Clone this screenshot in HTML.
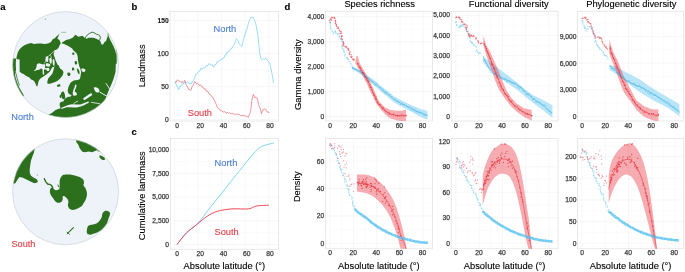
<!DOCTYPE html>
<html><head><meta charset="utf-8"><style>
html,body{margin:0;padding:0;background:#fff;width:685px;height:272px;overflow:hidden}
svg{display:block;will-change:transform}
text{font-family:"Liberation Sans", sans-serif}
</style></head><body>
<svg xmlns="http://www.w3.org/2000/svg" width="685" height="272" viewBox="0 0 685 272" font-family='&quot;Liberation Sans&quot;, sans-serif'>
<rect width="685" height="272" fill="#fff"/>
<clipPath id="gN"><circle cx="65.6" cy="64.6" r="53.0"/></clipPath>
<clipPath id="gS"><circle cx="65.6" cy="191.8" r="53.0"/></clipPath>
<circle cx="65.6" cy="64.6" r="53.0" fill="#eef3fa"/>
<circle cx="65.6" cy="191.8" r="53.0" fill="#eef3fa"/>
<path d="M16.3,58.3 L17.7,52.5 L19.6,49.2 L21.6,47.3 L24.4,45.3 L27.3,43.9 L31.1,43 L34,43.9 L38,43.4 L41.3,43.4 L44.6,44 L47.9,43.4 L50.7,42.3 L51.8,40.7 L52.9,39 L54.5,38.5 L56.2,36.8 L57.9,35.2 L59.5,33.5 L58.4,36.3 L57.3,39 L59,39.6 L60.1,41.2 L60.6,43.4 L59.5,45.6 L58.4,47.9 L56.7,49.5 L54.7,50.3 L53.6,54.4 L54.7,57.4 L55.8,61 L57.3,64 L56.5,65.5 L54.5,66.5 L52.3,67.2 L49.7,71.7 L46.1,74.7 L42.6,77 L40.5,78.5 L39.3,79.8 L38.4,81.7 L37.9,84.1 L37.4,86.6 L36.5,86.1 L35.5,83.7 L34.6,81.8 L33.1,80.3 L31.2,79.4 L29.3,77.5 L27.4,76.5 L25.5,75.6 L23.6,74.1 L21.6,73.2 L19.7,71.7 L19.6,59.6 L17.3,59.2 Z" fill="#2c6f1c" clip-path="url(#gN)"/>
<path d="M5,58.5 L16.18,58.5 L16.02,59.94 L15.9,61.38 L15.83,62.81 L15.8,64.25 L15.81,65.69 L15.86,67.12 L15.96,68.56 L16.09,70 L15.62,71.44 L15.18,72.88 L14.92,74.31 L15.22,75.75 L15.56,77.19 L15.94,78.62 L16.37,80.06 L16.85,81.5 L17.37,82.94 L17.94,84.38 L18.56,85.81 L19.24,87.25 L19.97,88.69 L20.76,90.12 L21.6,91.56 L22.52,93 L24,96 L5,100 Z" fill="#2c6f1c" clip-path="url(#gN)"/>
<path d="M15.6,72.5 L16.3,75 L16.9,77.5 L18.3,82.3 L19.3,85.1" fill="none" stroke="#2c6f1c" stroke-width="0.8" stroke-linejoin="round" stroke-linecap="round" clip-path="url(#gN)"/>
<path d="M38.6,63.3 C39.2,63.17 39.78,63.62 40.5,63.8 C41.22,63.98 42.25,64.37 42.9,64.4 C43.55,64.43 44.02,63.73 44.4,64 C44.78,64.27 45.13,65.3 45.2,66 C45.27,66.7 45.08,67.67 44.8,68.2 C44.52,68.73 44.1,69.17 43.5,69.2 C42.9,69.23 41.87,68.37 41.2,68.4 C40.53,68.43 40.28,69.08 39.5,69.4 C38.72,69.72 37.45,70.03 36.5,70.3 C35.55,70.57 33.97,71.18 33.8,71 C33.63,70.82 35.07,69.83 35.5,69.2 C35.93,68.57 36.17,67.97 36.4,67.2 C36.63,66.43 36.53,65.25 36.9,64.6 C37.27,63.95 38,63.43 38.6,63.3 Z" fill="#eef3fa" clip-path="url(#gN)"/>
<path d="M43.5,67.6 L47.2,68.4 L47.2,69.6 L43.5,69.6 Z" fill="#eef3fa" clip-path="url(#gN)"/>
<path d="M42.4,68.5 L43.9,68.8 L44.2,74.5 L42.8,74.5 Z" fill="#eef3fa" clip-path="url(#gN)"/>
<path d="M54.7,50.8 L52.9,52.2 L51,54.1 L48.8,55.9 L47,57.4 L45.9,59.2 L45.5,61.4 L44.6,63" fill="none" stroke="#eef3fa" stroke-width="0.7" stroke-linejoin="round" stroke-linecap="round" clip-path="url(#gN)"/>
<path d="M45.8,56.8 C46.1,56.35 47.07,56.1 47.5,56.3 C47.93,56.5 48.32,57.13 48.4,58 C48.48,58.87 48.32,60.88 48,61.5 C47.68,62.12 46.88,62.12 46.5,61.7 C46.12,61.28 45.82,59.82 45.7,59 C45.58,58.18 45.5,57.25 45.8,56.8 Z" fill="#eef3fa" clip-path="url(#gN)"/>
<path d="M49.5,58.2 C49.77,57.75 50.62,57.5 51,57.8 C51.38,58.1 51.73,59.07 51.8,60 C51.87,60.93 51.7,62.87 51.4,63.4 C51.1,63.93 50.33,63.68 50,63.2 C49.67,62.72 49.48,61.33 49.4,60.5 C49.32,59.67 49.23,58.65 49.5,58.2 Z" fill="#eef3fa" clip-path="url(#gN)"/>
<path d="M52.8,59.5 C53.02,58.95 53.7,58.78 54,59.2 C54.3,59.62 54.53,60.97 54.6,62 C54.67,63.03 54.63,64.87 54.4,65.4 C54.17,65.93 53.48,65.68 53.2,65.2 C52.92,64.72 52.77,63.45 52.7,62.5 C52.63,61.55 52.58,60.05 52.8,59.5 Z" fill="#eef3fa" clip-path="url(#gN)"/>
<path d="M45.8,63.8 C46.13,63.32 47.75,63.28 48.5,63.4 C49.25,63.52 50.13,64 50.3,64.5 C50.47,65 50.13,66.1 49.5,66.4 C48.87,66.7 47.12,66.73 46.5,66.3 C45.88,65.87 45.47,64.28 45.8,63.8 Z" fill="#eef3fa" clip-path="url(#gN)"/>
<path d="M46.6,68.2 C46.88,67.75 48.03,67.58 48.5,67.8 C48.97,68.02 49.4,68.97 49.4,69.5 C49.4,70.03 48.93,70.83 48.5,71 C48.07,71.17 47.12,70.97 46.8,70.5 C46.48,70.03 46.32,68.65 46.6,68.2 Z" fill="#eef3fa" clip-path="url(#gN)"/>
<path d="M50.5,55.5 L51.5,57.5" fill="none" stroke="#eef3fa" stroke-width="0.6" stroke-linejoin="round" stroke-linecap="round" clip-path="url(#gN)"/>
<path d="M47.3,82.7 C47.3,81.83 47.78,79.72 48.3,78.6 C48.82,77.48 49.72,76.87 50.4,76 C51.08,75.13 51.9,74.33 52.4,73.4 C52.9,72.47 53.1,71.38 53.4,70.4 C53.7,69.42 53.9,68.37 54.2,67.5 C54.5,66.63 54.73,65.73 55.2,65.2 C55.67,64.67 56.4,64.23 57,64.3 C57.6,64.37 58.28,64.88 58.8,65.6 C59.32,66.32 59.48,67.83 60.1,68.6 C60.72,69.37 61.95,69.57 62.5,70.2 C63.05,70.83 63.4,71.52 63.4,72.4 C63.4,73.28 63.05,74.47 62.5,75.5 C61.95,76.53 60.92,77.73 60.1,78.6 C59.28,79.47 58.53,80.1 57.6,80.7 C56.67,81.3 55.53,81.78 54.5,82.2 C53.47,82.62 52.43,82.93 51.4,83.2 C50.37,83.47 48.98,83.88 48.3,83.8 C47.62,83.72 47.3,83.57 47.3,82.7 Z" fill="#2c6f1c" clip-path="url(#gN)"/>
<path d="M57,85.2 C57.22,84.87 57.97,84.5 58.5,84.4 C59.03,84.3 59.88,84.33 60.2,84.6 C60.52,84.87 60.67,85.63 60.4,86 C60.13,86.37 59.13,86.73 58.6,86.8 C58.07,86.87 57.47,86.67 57.2,86.4 C56.93,86.13 56.78,85.53 57,85.2 Z" fill="#2c6f1c" clip-path="url(#gN)"/>
<path d="M67.3,73.2 C67.53,72.73 68.67,72.47 69.2,72.6 C69.73,72.73 70.43,73.45 70.5,74 C70.57,74.55 70.05,75.67 69.6,75.9 C69.15,76.13 68.18,75.85 67.8,75.4 C67.42,74.95 67.07,73.67 67.3,73.2 Z" fill="#2c6f1c" clip-path="url(#gN)"/>
<path d="M72.2,68.6 C72.42,68.23 73.55,68 73.9,68.2 C74.25,68.4 74.52,69.43 74.3,69.8 C74.08,70.17 72.95,70.6 72.6,70.4 C72.25,70.2 71.98,68.97 72.2,68.6 Z" fill="#2c6f1c" clip-path="url(#gN)"/>
<path d="M72.3,52.9 C72.53,52.55 73.67,52.42 74,52.7 C74.33,52.98 74.53,54.25 74.3,54.6 C74.07,54.95 72.93,55.08 72.6,54.8 C72.27,54.52 72.07,53.25 72.3,52.9 Z" fill="#2c6f1c" clip-path="url(#gN)"/>
<path d="M74.6,61.6 C74.8,61.05 76.17,60.93 76.6,61.3 C77.03,61.67 77.4,63.25 77.2,63.8 C77,64.35 75.83,64.97 75.4,64.6 C74.97,64.23 74.4,62.15 74.6,61.6 Z" fill="#2c6f1c" clip-path="url(#gN)"/>
<path d="M72.2,67.8 C72.43,67.4 73.33,67.25 73.6,67.6 C73.87,67.95 74.03,69.5 73.8,69.9 C73.57,70.3 72.47,70.35 72.2,70 C71.93,69.65 71.97,68.2 72.2,67.8 Z" fill="#2c6f1c" clip-path="url(#gN)"/>
<path d="M61.6,92.2 C62.07,91.6 62.9,91.33 63.4,91.6 C63.9,91.87 64.3,92.83 64.6,93.8 C64.9,94.77 65.33,96.48 65.2,97.4 C65.07,98.32 64.3,99.1 63.8,99.3 C63.3,99.5 62.6,99.08 62.2,98.6 C61.8,98.12 61.67,96.97 61.4,96.4 C61.13,95.83 60.57,95.9 60.6,95.2 C60.63,94.5 61.13,92.8 61.6,92.2 Z" fill="#2c6f1c" clip-path="url(#gN)"/>
<path d="M59.6,95.6 C59.77,95.17 60.72,94.9 61,95.2 C61.28,95.5 61.47,96.97 61.3,97.4 C61.13,97.83 60.28,98.1 60,97.8 C59.72,97.5 59.43,96.03 59.6,95.6 Z" fill="#2c6f1c" clip-path="url(#gN)"/>
<path d="M61.5,43.8 L62.3,42.3 L63.9,41.5 L66,40 L70.1,38.9 L73,37.5 L75.3,34.7 L76.5,35.5 L78.4,36.8 L82.5,35.8 L84.5,37.8 L86.6,38.8 L88.6,37.8 L93.8,37.8 L98.9,39.9 L100.5,41.5 L101.5,44.5 L103.1,44.5 L104.5,42 L106.1,40.9 L107.4,37 L108.2,34.7 L109,37 L110.3,39.9 L113.4,46.1 L115.4,51 L116.3,55 L116.3,60 L115.8,65 L115.5,71.9 L113.6,78.7 L111.5,84 L109.6,88.5 L107.6,93.2 L105.5,98.7 L103.8,101.8 L112,110 L90,125 L60,125 L40,118 L51.5,113.2 L55.2,110.3 L58,109 L60.6,108.2 L59.9,106.5 L59.6,104.5 L59.9,102.8 L61.5,101.8 L63.3,101.4 L64.5,98.9 L67.6,96.9 L70.7,96.5 L71.6,95.6 L70.7,94.8 L68.6,93.8 L67.6,90.7 L68.6,86.6 L70.7,82.5 L73.8,80.4 L75.1,80.3 L77.7,79.9 L79.9,79 L80.4,76.8 L80.8,74.1 L81.2,72.4 L80.4,68.8 L79.3,66.5 L78.5,63 L77.8,60 L77.9,57.9 L77.4,55.2 L76.6,53.5 L75.2,52.1 L73.5,50.4 L72.1,48.6 L69.9,46.9 L67.3,45.5 L64.6,44.2 L62.8,43.6 Z" fill="#2c6f1c" clip-path="url(#gN)"/>
<path d="M76.9,68.9 C76.98,68.47 77.38,68.2 77.8,68.6 C78.22,69 79.13,70.4 79.4,71.3 C79.67,72.2 79.58,73.62 79.4,74 C79.22,74.38 78.65,74.07 78.3,73.6 C77.95,73.13 77.53,71.98 77.3,71.2 C77.07,70.42 76.82,69.33 76.9,68.9 Z" fill="#2c6f1c" clip-path="url(#gN)"/>
<path d="M81.4,69 C81.62,68.5 82.82,68.43 83.5,68.6 C84.18,68.77 85.35,69.45 85.5,70 C85.65,70.55 84.95,71.63 84.4,71.9 C83.85,72.17 82.7,72.08 82.2,71.6 C81.7,71.12 81.18,69.5 81.4,69 Z" fill="#eef3fa" clip-path="url(#gN)"/>
<path d="M84.7,38.6 L87.4,34.8 L89.5,33.4 L92.2,32.1 L94.2,32.8 L96.3,34.1 L98.3,34.8 L99.7,35.5 L100.4,37.5 L99.7,40.3" fill="none" stroke="#2c6f1c" stroke-width="0.9" stroke-linejoin="round" stroke-linecap="round" clip-path="url(#gN)"/>
<path d="M107.9,34.8 L108.3,33.6" fill="none" stroke="#2c6f1c" stroke-width="0.8" stroke-linejoin="round" stroke-linecap="round" clip-path="url(#gN)"/>
<path d="M116.6,49 L117,53 L116.8,58 L116.4,63.5" fill="none" stroke="#2c6f1c" stroke-width="0.7" stroke-linejoin="round" stroke-linecap="round" clip-path="url(#gN)"/>
<path d="M75.8,85.4 L75.2,87.5 L74.2,90 L73.8,92" fill="none" stroke="#eef3fa" stroke-width="1.6" stroke-linejoin="round" stroke-linecap="round" clip-path="url(#gN)"/>
<path d="M72.8,92.2 C73.02,91.58 73.93,91.43 74.5,91.5 C75.07,91.57 75.78,92.1 76.2,92.6 C76.62,93.1 77.12,94 77,94.5 C76.88,95 76.13,95.48 75.5,95.6 C74.87,95.72 73.65,95.77 73.2,95.2 C72.75,94.63 72.58,92.82 72.8,92.2 Z" fill="#eef3fa" clip-path="url(#gN)"/>
<path d="M60.5,108.6 L62,107.6 L64.5,106.5 L66.9,105.6 L70.1,104.6 L73.3,104.2 L76.6,104.4 L80.6,104.6 L83,103.4 L86.3,102.3 L88.5,101.3 L88.7,102.9 L86.5,103.8 L84.6,105 L80.6,106.6 L76.6,107.4 L73.3,107.5 L70.1,107.2 L66.9,107.3 L64.5,108 L62,108.7 Z" fill="#eef3fa" clip-path="url(#gN)"/>
<path d="M73.8,103.5 L75.5,102.3 L77.8,101.2" fill="none" stroke="#eef3fa" stroke-width="0.8" stroke-linejoin="round" stroke-linecap="round" clip-path="url(#gN)"/>
<path d="M84.5,98.8 L86.5,97.5 L89,95.8 L91,94.5" fill="none" stroke="#eef3fa" stroke-width="2.3" stroke-linejoin="round" stroke-linecap="round" clip-path="url(#gN)"/>
<path d="M93.8,87.6 C93.9,86.95 95,87.1 95.8,87.3 C96.6,87.5 98,88.08 98.6,88.8 C99.2,89.52 99.6,90.97 99.4,91.6 C99.2,92.23 98.1,92.67 97.4,92.6 C96.7,92.53 95.8,92.03 95.2,91.2 C94.6,90.37 93.7,88.25 93.8,87.6 Z" fill="#eef3fa" clip-path="url(#gN)"/>
<path d="M100,92.2 L103,94 L107.2,96.3" fill="none" stroke="#eef3fa" stroke-width="1.0" stroke-linejoin="round" stroke-linecap="round" clip-path="url(#gN)"/>
<path d="M91.5,102.3 L95,103 L99.5,103.6" fill="none" stroke="#eef3fa" stroke-width="0.8" stroke-linejoin="round" stroke-linecap="round" clip-path="url(#gN)"/>
<path d="M106,83.5 L108.5,87 L110,90.5" fill="none" stroke="#eef3fa" stroke-width="0.9" stroke-linejoin="round" stroke-linecap="round" clip-path="url(#gN)"/>
<path d="M61.5,32.3 L65.8,32.3" fill="none" stroke="#2c6f1c" stroke-width="0.4" stroke-linejoin="round" stroke-linecap="round" clip-path="url(#gN)"/>
<path d="M45.2,19.2 L45.5,19.2" fill="none" stroke="#2c6f1c" stroke-width="0.6" stroke-linejoin="round" stroke-linecap="round" clip-path="url(#gN)"/>
<path d="M34.6,149.4 L33.8,153 L32.4,156.4 L31,160.4 L30.4,163.9 L29.7,169.3 L29.8,173 L31,175.7 L33.8,177.8 L36.5,179.1 L37.9,181.2 L37.2,182.5 L34.4,183.2 L31,181.8 L27,179.8 L22.9,177.8 L19.5,177.1 L17.4,179.8 L15.4,183.2 L5,185 L5,140 L34,140 Z" fill="#2c6f1c" clip-path="url(#gS)"/>
<path d="M70,130 L120,130 L120,152 L98.6,151.6 L97,150.2 L94.9,150.9 L92.2,152.3 L88.8,151.6 L84.7,152.3 L82,151.6 L81.7,150.9 L79.7,148.2 L78.3,144.8 L76.3,142.1 L76,130 Z" fill="#2c6f1c" clip-path="url(#gS)"/>
<path d="M99.3,155.8 C99.53,155.42 100.78,155.63 101.6,155.9 C102.42,156.17 103.6,156.78 104.2,157.4 C104.8,158.02 105.43,159.18 105.2,159.6 C104.97,160.02 103.63,160.13 102.8,159.9 C101.97,159.67 100.78,158.88 100.2,158.2 C99.62,157.52 99.07,156.18 99.3,155.8 Z" fill="#2c6f1c" clip-path="url(#gS)"/>
<path d="M62.9,174.9 C63.55,174.4 63.52,174.75 64.5,174.7 C65.48,174.65 67.52,174.57 68.8,174.6 C70.08,174.63 71.07,174.72 72.2,174.9 C73.33,175.08 74.35,175.33 75.6,175.7 C76.85,176.07 78.67,176.65 79.7,177.1 C80.73,177.55 81.18,177.95 81.8,178.4 C82.42,178.85 83.03,179 83.4,179.8 C83.77,180.6 84,182.3 84,183.2 C84,184.1 83.17,184.4 83.4,185.2 C83.63,186 84.83,186.87 85.4,188 C85.97,189.13 86.57,190.65 86.8,192 C87.03,193.35 87.03,194.73 86.8,196.1 C86.57,197.47 85.97,198.95 85.4,200.2 C84.83,201.45 83.97,202.68 83.4,203.6 C82.83,204.52 82.52,205.13 82,205.7 C81.48,206.27 81.03,206.52 80.3,207 C79.57,207.48 78.62,208.13 77.6,208.6 C76.58,209.07 75.33,209.63 74.2,209.8 C73.07,209.97 71.68,209.88 70.8,209.6 C69.92,209.32 69.38,208.83 68.9,208.1 C68.42,207.37 67.98,206.32 67.9,205.2 C67.82,204.08 68.55,202.52 68.4,201.4 C68.25,200.28 67.72,199.38 67,198.5 C66.28,197.62 64.82,196.42 64.1,196.1 C63.38,195.78 62.93,196.03 62.7,196.6 C62.47,197.17 62.87,198.7 62.7,199.5 C62.53,200.3 62.27,200.85 61.7,201.4 C61.13,201.95 60.17,202.65 59.3,202.8 C58.43,202.95 57.28,202.7 56.5,202.3 C55.72,201.9 55.25,201.18 54.6,200.4 C53.95,199.62 53.25,198.55 52.6,197.6 C51.95,196.65 51.17,195.67 50.7,194.7 C50.23,193.73 49.8,192.87 49.8,191.8 C49.8,190.73 50.3,189.02 50.7,188.3 C51.1,187.58 51.73,187.42 52.2,187.5 C52.67,187.58 53.03,188.4 53.5,188.8 C53.97,189.2 54.38,189.68 55,189.9 C55.62,190.12 56.5,190.2 57.2,190.1 C57.9,190 58.78,189.98 59.2,189.3 C59.62,188.62 59.63,187.28 59.7,186 C59.77,184.72 59.45,182.98 59.6,181.6 C59.75,180.22 60.05,178.82 60.6,177.7 C61.15,176.58 62.25,175.4 62.9,174.9 Z" fill="#2c6f1c" clip-path="url(#gS)"/>
<path d="M44.3,178.7 L45.7,181.6 L47.6,184 L50.5,184.6 L52.2,186.5 L52.8,188" fill="none" stroke="#2c6f1c" stroke-width="1.4" stroke-linejoin="round" stroke-linecap="round" clip-path="url(#gS)"/>
<path d="M58,185 L58.8,186.8" fill="none" stroke="#2c6f1c" stroke-width="1.0" stroke-linejoin="round" stroke-linecap="round" clip-path="url(#gS)"/>
<path d="M103.8,211.8 C104.37,211.28 104.9,210.7 105.8,210.7 C106.7,210.7 108.52,211.17 109.2,211.8 C109.88,212.43 110.02,213.37 109.9,214.5 C109.78,215.63 108.95,217.23 108.5,218.6 C108.05,219.97 107.88,221.33 107.2,222.7 C106.52,224.07 105.43,225.55 104.4,226.8 C103.37,228.05 102.13,229.3 101,230.2 C99.87,231.1 98.73,231.63 97.6,232.2 C96.47,232.77 95.43,233.18 94.2,233.6 C92.97,234.02 91.33,234.67 90.2,234.7 C89.07,234.73 87.97,234.43 87.4,233.8 C86.83,233.17 86.8,231.97 86.8,230.9 C86.8,229.83 87.07,228.32 87.4,227.4 C87.73,226.48 88.12,225.85 88.8,225.4 C89.48,224.95 90.48,224.93 91.5,224.7 C92.52,224.47 93.88,224.33 94.9,224 C95.92,223.67 96.8,223.27 97.6,222.7 C98.4,222.13 99.02,221.52 99.7,220.6 C100.38,219.68 101.25,218.33 101.7,217.2 C102.15,216.07 102.05,214.7 102.4,213.8 C102.75,212.9 103.23,212.32 103.8,211.8 Z" fill="#2c6f1c" clip-path="url(#gS)"/>
<path d="M67.6,233.4 L73.4,227.6" fill="none" stroke="#2c6f1c" stroke-width="1.1" stroke-linejoin="round" stroke-linecap="round" clip-path="url(#gS)"/>
<path d="M67,232.2 L69.5,234.3" fill="none" stroke="#2c6f1c" stroke-width="0.8" stroke-linejoin="round" stroke-linecap="round" clip-path="url(#gS)"/>
<path d="M37.2,175 L37.4,175" fill="none" stroke="#2c6f1c" stroke-width="0.7" stroke-linejoin="round" stroke-linecap="round" clip-path="url(#gS)"/>
<circle cx="65.6" cy="64.6" r="53.0" fill="none" stroke="#c3ccd4" stroke-width="0.6"/>
<circle cx="65.6" cy="191.8" r="53.0" fill="none" stroke="#c3ccd4" stroke-width="0.6"/>
<text x="0.2" y="9.8" font-size="9.5" fill="#000" color="#000" text-anchor="start" font-weight="bold" stroke-width="0.12" stroke="currentColor">a</text>
<text x="11.3" y="119.6" font-size="9.2" fill="#4a7fd6" color="#4a7fd6" text-anchor="start" font-weight="normal" stroke-width="0.12" stroke="currentColor">North</text>
<text x="11.4" y="246.8" font-size="9.2" fill="#e6414b" color="#e6414b" text-anchor="start" font-weight="normal" stroke-width="0.12" stroke="currentColor">South</text>
<clipPath id="cb"><rect x="170" y="11.6" width="108.3" height="109.4"/></clipPath>
<line x1="174.4" y1="11.6" x2="174.4" y2="121" stroke="#efefef" stroke-width="0.5"/>
<line x1="186.19" y1="11.6" x2="186.19" y2="121" stroke="#f5f5f5" stroke-width="0.4"/>
<line x1="197.98" y1="11.6" x2="197.98" y2="121" stroke="#efefef" stroke-width="0.5"/>
<line x1="209.77" y1="11.6" x2="209.77" y2="121" stroke="#f5f5f5" stroke-width="0.4"/>
<line x1="221.56" y1="11.6" x2="221.56" y2="121" stroke="#efefef" stroke-width="0.5"/>
<line x1="233.35" y1="11.6" x2="233.35" y2="121" stroke="#f5f5f5" stroke-width="0.4"/>
<line x1="245.14" y1="11.6" x2="245.14" y2="121" stroke="#efefef" stroke-width="0.5"/>
<line x1="256.93" y1="11.6" x2="256.93" y2="121" stroke="#f5f5f5" stroke-width="0.4"/>
<line x1="268.72" y1="11.6" x2="268.72" y2="121" stroke="#efefef" stroke-width="0.5"/>
<line x1="170" y1="119.5" x2="278.3" y2="119.5" stroke="#efefef" stroke-width="0.5"/>
<line x1="170" y1="103" x2="278.3" y2="103" stroke="#f5f5f5" stroke-width="0.4"/>
<line x1="170" y1="86.5" x2="278.3" y2="86.5" stroke="#efefef" stroke-width="0.5"/>
<line x1="170" y1="70" x2="278.3" y2="70" stroke="#f5f5f5" stroke-width="0.4"/>
<line x1="170" y1="53.5" x2="278.3" y2="53.5" stroke="#efefef" stroke-width="0.5"/>
<line x1="170" y1="37" x2="278.3" y2="37" stroke="#f5f5f5" stroke-width="0.4"/>
<line x1="170" y1="20.5" x2="278.3" y2="20.5" stroke="#efefef" stroke-width="0.5"/>
<rect x="170" y="11.6" width="108.3" height="109.4" fill="none" stroke="#dadada" stroke-width="0.6"/>
<text x="177.1" y="127.6" font-size="6.7" fill="#3a3a3a" color="#3a3a3a" text-anchor="middle" font-weight="normal" stroke="#3a3a3a" stroke-width="0.25">0</text>
<text x="200.35" y="127.6" font-size="6.7" fill="#3a3a3a" color="#3a3a3a" text-anchor="middle" font-weight="normal" stroke="#3a3a3a" stroke-width="0.25">20</text>
<text x="223.6" y="127.6" font-size="6.7" fill="#3a3a3a" color="#3a3a3a" text-anchor="middle" font-weight="normal" stroke="#3a3a3a" stroke-width="0.25">40</text>
<text x="246.85" y="127.6" font-size="6.7" fill="#3a3a3a" color="#3a3a3a" text-anchor="middle" font-weight="normal" stroke="#3a3a3a" stroke-width="0.25">60</text>
<text x="270.1" y="127.6" font-size="6.7" fill="#3a3a3a" color="#3a3a3a" text-anchor="middle" font-weight="normal" stroke="#3a3a3a" stroke-width="0.25">80</text>
<text x="168.7" y="121.9" font-size="6.7" fill="#3a3a3a" color="#3a3a3a" text-anchor="end" font-weight="normal" stroke="#3a3a3a" stroke-width="0.25">0</text>
<text x="168.7" y="88.9" font-size="6.7" fill="#3a3a3a" color="#3a3a3a" text-anchor="end" font-weight="normal" stroke="#3a3a3a" stroke-width="0.25">50</text>
<text x="168.7" y="55.9" font-size="6.7" fill="#3a3a3a" color="#3a3a3a" text-anchor="end" font-weight="normal" stroke="#3a3a3a" stroke-width="0.25">100</text>
<text x="168.7" y="22.9" font-size="6.7" fill="#222" color="#222" text-anchor="end" font-weight="bold" stroke-width="0.12" stroke="currentColor">150</text>
<text x="131.6" y="10.3" font-size="9.5" fill="#000" color="#000" text-anchor="start" font-weight="bold" stroke-width="0.12" stroke="currentColor">b</text>
<text x="145" y="65.9" font-size="9.3" fill="#000" color="#000" text-anchor="middle" font-weight="normal" transform="rotate(-90 145 65.9)" stroke-width="0.12" stroke="currentColor">Landmass</text>
<path d="M175,81.35 L176.33,85.08 L177.72,86.97 L178.68,89.84 L180.24,86.17 L181.33,86.1 L182.61,83.21 L183.89,83.83 L184.92,81.91 L186.51,82.48 L187.99,81.64 L188.95,83.68 L190.32,83.48 L191.26,84.04 L192.54,81.26 L194.13,79.09 L195.76,74.35 L197.3,73.64 L198.94,71.16 L199.92,70.83 L201,68.12 L202.25,69.24 L203.4,67.71 L204.61,68.03 L205.97,65.71 L207.59,65.61 L209.22,63.41 L210.91,65.53 L211.94,64.48 L213.61,67.23 L214.96,64.84 L216.03,64.52 L217.39,61.09 L218.35,61.81 L220.03,60.21 L221.57,59.91 L222.6,58.01 L224.11,57.7 L225.05,55.01 L225.99,55.07 L227.16,52 L228.84,51.61 L230.53,48.97 L231.5,49.02 L232.43,46.82 L233.66,45.9 L234.69,43.5 L236.28,38.68 L237.94,40.4 L239.14,43.77 L240.46,44.84 L241.83,46.37 L243.22,40.9 L244.53,36.29 L246,30.99 L247.15,28.76 L248.46,22.9 L249.38,20.74 L250.74,17.66 L252.13,17.37 L253.09,17.06 L254.37,20.05 L255.55,22.84 L257.04,30.67 L257.99,35.79 L259.65,52.4 L260.92,58.97 L262.08,59.81 L263.23,58.71 L264.61,59.28 L265.81,57.87 L266.74,59.76 L268.23,60.99 L269.31,62.85 L270.41,65.52 L271.66,72.14 L272.65,76.91 L273.6,83.2" fill="none" stroke="#5cc8f2" stroke-width="0.62" stroke-opacity="1" stroke-linejoin="round" clip-path="url(#cb)"/>
<path d="M175,82.02 L176.25,82.18 L177.29,79.78 L178.71,80.96 L179.97,81.13 L180.98,82.55 L182.04,81.76 L183.6,82.29 L184.73,80.3 L186.14,84.91 L187.32,86.32 L188.46,89.41 L189.58,89.41 L190.81,90.66 L192.04,86.87 L193.07,85.36 L194.72,81.37 L196.4,83.82 L198.05,83.46 L199.13,85.53 L200.7,84.89 L202.01,87.02 L203.19,87.29 L204.15,89.06 L205.28,88.82 L206.23,91.36 L207.68,91.13 L209.29,94.42 L210.65,94.76 L212.14,97.11 L213.28,97.7 L214.6,100.78 L216.25,104.54 L217.42,107.78 L219,108.48 L220.52,110.87 L221.59,110.64 L223.14,112.18 L224.66,111.5 L226.2,113.36 L227.12,112.1 L228.7,113.2 L229.82,112.86 L231.14,114.02 L232.42,113.08 L233.33,114.22 L234.34,113.73 L235.31,114.88 L236.88,113.76 L238.18,114.71 L239.34,114.47 L240.75,115.92 L241.95,115.16 L243.11,115.91 L244.46,115.14 L245.66,116.38 L246.71,115.95 L248.09,117.49 L249.3,114.77 L250.7,111.04 L251.9,100.03 L253.35,94.36 L254.81,97.8 L255.91,96.95 L257.36,98.9 L258.6,104.59 L260.2,108.51 L261.4,113.64 L262.93,109.58 L264.2,109.11 L265.74,109.26 L267.34,112.09 L268.77,112.07 L269,113" fill="none" stroke="#e8404e" stroke-width="0.6" stroke-opacity="0.9" stroke-linejoin="round" clip-path="url(#cb)"/>
<text x="213.5" y="32.2" font-size="9.3" fill="#4a7fd6" color="#4a7fd6" text-anchor="start" font-weight="normal" stroke-width="0.12" stroke="currentColor">North</text>
<text x="187.7" y="116.1" font-size="9.3" fill="#e6414b" color="#e6414b" text-anchor="start" font-weight="normal" stroke-width="0.12" stroke="currentColor">South</text>
<clipPath id="cc"><rect x="170.4" y="138.4" width="108.2" height="110.8"/></clipPath>
<line x1="174.4" y1="138.4" x2="174.4" y2="249.2" stroke="#efefef" stroke-width="0.5"/>
<line x1="186.19" y1="138.4" x2="186.19" y2="249.2" stroke="#f5f5f5" stroke-width="0.4"/>
<line x1="197.98" y1="138.4" x2="197.98" y2="249.2" stroke="#efefef" stroke-width="0.5"/>
<line x1="209.77" y1="138.4" x2="209.77" y2="249.2" stroke="#f5f5f5" stroke-width="0.4"/>
<line x1="221.56" y1="138.4" x2="221.56" y2="249.2" stroke="#efefef" stroke-width="0.5"/>
<line x1="233.35" y1="138.4" x2="233.35" y2="249.2" stroke="#f5f5f5" stroke-width="0.4"/>
<line x1="245.14" y1="138.4" x2="245.14" y2="249.2" stroke="#efefef" stroke-width="0.5"/>
<line x1="256.93" y1="138.4" x2="256.93" y2="249.2" stroke="#f5f5f5" stroke-width="0.4"/>
<line x1="268.72" y1="138.4" x2="268.72" y2="249.2" stroke="#efefef" stroke-width="0.5"/>
<line x1="170.4" y1="244.5" x2="278.6" y2="244.5" stroke="#efefef" stroke-width="0.5"/>
<line x1="170.4" y1="232.65" x2="278.6" y2="232.65" stroke="#f5f5f5" stroke-width="0.4"/>
<line x1="170.4" y1="220.79" x2="278.6" y2="220.79" stroke="#efefef" stroke-width="0.5"/>
<line x1="170.4" y1="208.94" x2="278.6" y2="208.94" stroke="#f5f5f5" stroke-width="0.4"/>
<line x1="170.4" y1="197.09" x2="278.6" y2="197.09" stroke="#efefef" stroke-width="0.5"/>
<line x1="170.4" y1="185.24" x2="278.6" y2="185.24" stroke="#f5f5f5" stroke-width="0.4"/>
<line x1="170.4" y1="173.38" x2="278.6" y2="173.38" stroke="#efefef" stroke-width="0.5"/>
<line x1="170.4" y1="161.53" x2="278.6" y2="161.53" stroke="#f5f5f5" stroke-width="0.4"/>
<line x1="170.4" y1="149.68" x2="278.6" y2="149.68" stroke="#efefef" stroke-width="0.5"/>
<rect x="170.4" y="138.4" width="108.2" height="110.8" fill="none" stroke="#dadada" stroke-width="0.6"/>
<text x="177.1" y="255.8" font-size="6.7" fill="#3a3a3a" color="#3a3a3a" text-anchor="middle" font-weight="normal" stroke="#3a3a3a" stroke-width="0.25">0</text>
<text x="200.35" y="255.8" font-size="6.7" fill="#3a3a3a" color="#3a3a3a" text-anchor="middle" font-weight="normal" stroke="#3a3a3a" stroke-width="0.25">20</text>
<text x="223.6" y="255.8" font-size="6.7" fill="#3a3a3a" color="#3a3a3a" text-anchor="middle" font-weight="normal" stroke="#3a3a3a" stroke-width="0.25">40</text>
<text x="246.85" y="255.8" font-size="6.7" fill="#3a3a3a" color="#3a3a3a" text-anchor="middle" font-weight="normal" stroke="#3a3a3a" stroke-width="0.25">60</text>
<text x="270.1" y="255.8" font-size="6.7" fill="#3a3a3a" color="#3a3a3a" text-anchor="middle" font-weight="normal" stroke="#3a3a3a" stroke-width="0.25">80</text>
<text x="169.1" y="246.9" font-size="6.7" fill="#3a3a3a" color="#3a3a3a" text-anchor="end" font-weight="normal" stroke="#3a3a3a" stroke-width="0.25">0</text>
<text x="169.1" y="223.19" font-size="6.7" fill="#3a3a3a" color="#3a3a3a" text-anchor="end" font-weight="normal" stroke="#3a3a3a" stroke-width="0.25">2,500</text>
<text x="169.1" y="199.49" font-size="6.7" fill="#3a3a3a" color="#3a3a3a" text-anchor="end" font-weight="normal" stroke="#3a3a3a" stroke-width="0.25">5,000</text>
<text x="169.1" y="175.78" font-size="6.7" fill="#3a3a3a" color="#3a3a3a" text-anchor="end" font-weight="normal" stroke="#3a3a3a" stroke-width="0.25">7,500</text>
<text x="169.1" y="152.08" font-size="6.7" fill="#3a3a3a" color="#3a3a3a" text-anchor="end" font-weight="normal" stroke="#3a3a3a" stroke-width="0.25">10,000</text>
<text x="131.6" y="135.2" font-size="9.5" fill="#000" color="#000" text-anchor="start" font-weight="bold" stroke-width="0.12" stroke="currentColor">c</text>
<text x="145" y="195.7" font-size="9.3" fill="#000" color="#000" text-anchor="middle" font-weight="normal" transform="rotate(-90 145 195.7)" stroke-width="0.12" stroke="currentColor">Cumulative landmass</text>
<text x="224.4" y="269.2" font-size="9.35" fill="#000" color="#000" text-anchor="middle" font-weight="normal" stroke-width="0.12" stroke="currentColor">Absolute latitude (°)</text>
<path d="M177,244.5 C178.58,242.55 183.2,236.13 186.5,232.8 C189.8,229.47 192.88,228.67 196.8,224.5 C200.72,220.33 205.3,213.72 210,207.8 C214.7,201.88 220,195.27 225,189 C230,182.73 235.5,175.82 240,170.2 C244.5,164.58 249.07,158.8 252,155.3 C254.93,151.8 256.02,150.63 257.6,149.2 C259.18,147.77 260,147.45 261.5,146.7 C263,145.95 264.55,145.3 266.6,144.7 C268.65,144.1 272.6,143.37 273.8,143.1" fill="none" stroke="#6fcff4" stroke-width="0.9" stroke-opacity="1" stroke-linejoin="round" clip-path="url(#cc)"/>
<path d="M177,244.5 C178.58,242.55 183.2,236.13 186.5,232.8 C189.8,229.47 193.37,227.25 196.8,224.5 C200.23,221.75 203.67,218.5 207.1,216.3 C210.53,214.1 213.28,212.53 217.4,211.3 C221.52,210.07 226.65,209.3 231.8,208.9 C236.95,208.5 244.18,209.38 248.3,208.9 C252.42,208.42 253.07,206.62 256.5,206 C259.93,205.38 266.83,205.33 268.9,205.2" fill="none" stroke="#ec4a56" stroke-width="1.0" stroke-opacity="1" stroke-linejoin="round" clip-path="url(#cc)"/>
<text x="214.6" y="165.8" font-size="9.3" fill="#4a7fd6" color="#4a7fd6" text-anchor="start" font-weight="normal" stroke-width="0.12" stroke="currentColor">North</text>
<text x="214.5" y="234.8" font-size="9.3" fill="#e6414b" color="#e6414b" text-anchor="start" font-weight="normal" stroke-width="0.12" stroke="currentColor">South</text>
<text x="344.4" y="7.4" font-size="9.33" fill="#000" color="#000" text-anchor="start" font-weight="normal" stroke-width="0.12" stroke="currentColor">Species richness</text>
<text x="468.8" y="7.4" font-size="9.33" fill="#000" color="#000" text-anchor="start" font-weight="normal" stroke-width="0.12" stroke="currentColor">Functional diversity</text>
<text x="586.2" y="7.4" font-size="9.33" fill="#000" color="#000" text-anchor="start" font-weight="normal" stroke-width="0.12" stroke="currentColor">Phylogenetic diversity</text>
<text x="284.6" y="10.3" font-size="9.5" fill="#000" color="#000" text-anchor="start" font-weight="bold" stroke-width="0.12" stroke="currentColor">d</text>
<text x="301.3" y="74.6" font-size="9.45" fill="#000" color="#000" text-anchor="middle" font-weight="normal" transform="rotate(-90 301.3 74.6)" stroke-width="0.12" stroke="currentColor">Gamma diversity</text>
<text x="300.5" y="186.7" font-size="9.2" fill="#000" color="#000" text-anchor="middle" font-weight="normal" transform="rotate(-90 300.5 186.7)" stroke-width="0.12" stroke="currentColor">Density</text>
<text x="378.9" y="269.2" font-size="9.35" fill="#000" color="#000" text-anchor="middle" font-weight="normal" stroke-width="0.12" stroke="currentColor">Absolute latitude (°)</text>
<text x="504.6" y="269.2" font-size="9.35" fill="#000" color="#000" text-anchor="middle" font-weight="normal" stroke-width="0.12" stroke="currentColor">Absolute latitude (°)</text>
<text x="630.6" y="269.2" font-size="9.35" fill="#000" color="#000" text-anchor="middle" font-weight="normal" stroke-width="0.12" stroke="currentColor">Absolute latitude (°)</text>
<clipPath id="d00"><rect x="325.5" y="11.2" width="106.8" height="109.8"/></clipPath>
<line x1="330.1" y1="11.2" x2="330.1" y2="121" stroke="#efefef" stroke-width="0.5"/>
<line x1="341.75" y1="11.2" x2="341.75" y2="121" stroke="#f5f5f5" stroke-width="0.4"/>
<line x1="353.4" y1="11.2" x2="353.4" y2="121" stroke="#efefef" stroke-width="0.5"/>
<line x1="365.05" y1="11.2" x2="365.05" y2="121" stroke="#f5f5f5" stroke-width="0.4"/>
<line x1="376.7" y1="11.2" x2="376.7" y2="121" stroke="#efefef" stroke-width="0.5"/>
<line x1="388.35" y1="11.2" x2="388.35" y2="121" stroke="#f5f5f5" stroke-width="0.4"/>
<line x1="400" y1="11.2" x2="400" y2="121" stroke="#efefef" stroke-width="0.5"/>
<line x1="411.65" y1="11.2" x2="411.65" y2="121" stroke="#f5f5f5" stroke-width="0.4"/>
<line x1="423.3" y1="11.2" x2="423.3" y2="121" stroke="#efefef" stroke-width="0.5"/>
<line x1="325.5" y1="116.7" x2="432.3" y2="116.7" stroke="#efefef" stroke-width="0.5"/>
<line x1="325.5" y1="104.2" x2="432.3" y2="104.2" stroke="#f5f5f5" stroke-width="0.4"/>
<line x1="325.5" y1="91.7" x2="432.3" y2="91.7" stroke="#efefef" stroke-width="0.5"/>
<line x1="325.5" y1="79.2" x2="432.3" y2="79.2" stroke="#f5f5f5" stroke-width="0.4"/>
<line x1="325.5" y1="66.7" x2="432.3" y2="66.7" stroke="#efefef" stroke-width="0.5"/>
<line x1="325.5" y1="54.2" x2="432.3" y2="54.2" stroke="#f5f5f5" stroke-width="0.4"/>
<line x1="325.5" y1="41.7" x2="432.3" y2="41.7" stroke="#efefef" stroke-width="0.5"/>
<line x1="325.5" y1="29.2" x2="432.3" y2="29.2" stroke="#f5f5f5" stroke-width="0.4"/>
<line x1="325.5" y1="16.7" x2="432.3" y2="16.7" stroke="#efefef" stroke-width="0.5"/>
<rect x="325.5" y="11.2" width="106.8" height="109.8" fill="none" stroke="#dadada" stroke-width="0.6"/>
<text x="330.2" y="127.6" font-size="6.7" fill="#3a3a3a" color="#3a3a3a" text-anchor="middle" font-weight="normal" stroke="#3a3a3a" stroke-width="0.25">0</text>
<text x="353.26" y="127.6" font-size="6.7" fill="#3a3a3a" color="#3a3a3a" text-anchor="middle" font-weight="normal" stroke="#3a3a3a" stroke-width="0.25">20</text>
<text x="376.32" y="127.6" font-size="6.7" fill="#3a3a3a" color="#3a3a3a" text-anchor="middle" font-weight="normal" stroke="#3a3a3a" stroke-width="0.25">40</text>
<text x="399.38" y="127.6" font-size="6.7" fill="#3a3a3a" color="#3a3a3a" text-anchor="middle" font-weight="normal" stroke="#3a3a3a" stroke-width="0.25">60</text>
<text x="422.44" y="127.6" font-size="6.7" fill="#3a3a3a" color="#3a3a3a" text-anchor="middle" font-weight="normal" stroke="#3a3a3a" stroke-width="0.25">80</text>
<text x="324.2" y="119.1" font-size="6.7" fill="#3a3a3a" color="#3a3a3a" text-anchor="end" font-weight="normal" stroke="#3a3a3a" stroke-width="0.25">0</text>
<text x="324.2" y="94.1" font-size="6.7" fill="#3a3a3a" color="#3a3a3a" text-anchor="end" font-weight="normal" stroke="#3a3a3a" stroke-width="0.25">1,000</text>
<text x="324.2" y="69.1" font-size="6.7" fill="#3a3a3a" color="#3a3a3a" text-anchor="end" font-weight="normal" stroke="#3a3a3a" stroke-width="0.25">2,000</text>
<text x="324.2" y="44.1" font-size="6.7" fill="#3a3a3a" color="#3a3a3a" text-anchor="end" font-weight="normal" stroke="#3a3a3a" stroke-width="0.25">3,000</text>
<text x="324.2" y="19.1" font-size="6.7" fill="#3a3a3a" color="#3a3a3a" text-anchor="end" font-weight="normal" stroke="#3a3a3a" stroke-width="0.25">4,000</text>
<clipPath id="d01"><rect x="451.2" y="11.2" width="106.8" height="109.8"/></clipPath>
<line x1="455.8" y1="11.2" x2="455.8" y2="121" stroke="#efefef" stroke-width="0.5"/>
<line x1="467.45" y1="11.2" x2="467.45" y2="121" stroke="#f5f5f5" stroke-width="0.4"/>
<line x1="479.1" y1="11.2" x2="479.1" y2="121" stroke="#efefef" stroke-width="0.5"/>
<line x1="490.75" y1="11.2" x2="490.75" y2="121" stroke="#f5f5f5" stroke-width="0.4"/>
<line x1="502.4" y1="11.2" x2="502.4" y2="121" stroke="#efefef" stroke-width="0.5"/>
<line x1="514.05" y1="11.2" x2="514.05" y2="121" stroke="#f5f5f5" stroke-width="0.4"/>
<line x1="525.7" y1="11.2" x2="525.7" y2="121" stroke="#efefef" stroke-width="0.5"/>
<line x1="537.35" y1="11.2" x2="537.35" y2="121" stroke="#f5f5f5" stroke-width="0.4"/>
<line x1="549" y1="11.2" x2="549" y2="121" stroke="#efefef" stroke-width="0.5"/>
<line x1="451.2" y1="116.6" x2="558" y2="116.6" stroke="#efefef" stroke-width="0.5"/>
<line x1="451.2" y1="106.44" x2="558" y2="106.44" stroke="#f5f5f5" stroke-width="0.4"/>
<line x1="451.2" y1="96.28" x2="558" y2="96.28" stroke="#efefef" stroke-width="0.5"/>
<line x1="451.2" y1="86.12" x2="558" y2="86.12" stroke="#f5f5f5" stroke-width="0.4"/>
<line x1="451.2" y1="75.96" x2="558" y2="75.96" stroke="#efefef" stroke-width="0.5"/>
<line x1="451.2" y1="65.8" x2="558" y2="65.8" stroke="#f5f5f5" stroke-width="0.4"/>
<line x1="451.2" y1="55.64" x2="558" y2="55.64" stroke="#efefef" stroke-width="0.5"/>
<line x1="451.2" y1="45.48" x2="558" y2="45.48" stroke="#f5f5f5" stroke-width="0.4"/>
<line x1="451.2" y1="35.32" x2="558" y2="35.32" stroke="#efefef" stroke-width="0.5"/>
<line x1="451.2" y1="25.16" x2="558" y2="25.16" stroke="#f5f5f5" stroke-width="0.4"/>
<line x1="451.2" y1="15" x2="558" y2="15" stroke="#efefef" stroke-width="0.5"/>
<rect x="451.2" y="11.2" width="106.8" height="109.8" fill="none" stroke="#dadada" stroke-width="0.6"/>
<text x="455.9" y="127.6" font-size="6.7" fill="#3a3a3a" color="#3a3a3a" text-anchor="middle" font-weight="normal" stroke="#3a3a3a" stroke-width="0.25">0</text>
<text x="478.96" y="127.6" font-size="6.7" fill="#3a3a3a" color="#3a3a3a" text-anchor="middle" font-weight="normal" stroke="#3a3a3a" stroke-width="0.25">20</text>
<text x="502.02" y="127.6" font-size="6.7" fill="#3a3a3a" color="#3a3a3a" text-anchor="middle" font-weight="normal" stroke="#3a3a3a" stroke-width="0.25">40</text>
<text x="525.08" y="127.6" font-size="6.7" fill="#3a3a3a" color="#3a3a3a" text-anchor="middle" font-weight="normal" stroke="#3a3a3a" stroke-width="0.25">60</text>
<text x="548.14" y="127.6" font-size="6.7" fill="#3a3a3a" color="#3a3a3a" text-anchor="middle" font-weight="normal" stroke="#3a3a3a" stroke-width="0.25">80</text>
<text x="449.9" y="119" font-size="6.7" fill="#3a3a3a" color="#3a3a3a" text-anchor="end" font-weight="normal" stroke="#3a3a3a" stroke-width="0.25">0</text>
<text x="449.9" y="98.68" font-size="6.7" fill="#3a3a3a" color="#3a3a3a" text-anchor="end" font-weight="normal" stroke="#3a3a3a" stroke-width="0.25">1,000</text>
<text x="449.9" y="78.36" font-size="6.7" fill="#3a3a3a" color="#3a3a3a" text-anchor="end" font-weight="normal" stroke="#3a3a3a" stroke-width="0.25">2,000</text>
<text x="449.9" y="58.04" font-size="6.7" fill="#3a3a3a" color="#3a3a3a" text-anchor="end" font-weight="normal" stroke="#3a3a3a" stroke-width="0.25">3,000</text>
<text x="449.9" y="37.72" font-size="6.7" fill="#3a3a3a" color="#3a3a3a" text-anchor="end" font-weight="normal" stroke="#3a3a3a" stroke-width="0.25">4,000</text>
<text x="449.9" y="17.4" font-size="6.7" fill="#3a3a3a" color="#3a3a3a" text-anchor="end" font-weight="normal" stroke="#3a3a3a" stroke-width="0.25">5,000</text>
<clipPath id="d02"><rect x="577.7" y="11.2" width="105.8" height="109.8"/></clipPath>
<line x1="582" y1="11.2" x2="582" y2="121" stroke="#efefef" stroke-width="0.5"/>
<line x1="593.65" y1="11.2" x2="593.65" y2="121" stroke="#f5f5f5" stroke-width="0.4"/>
<line x1="605.3" y1="11.2" x2="605.3" y2="121" stroke="#efefef" stroke-width="0.5"/>
<line x1="616.95" y1="11.2" x2="616.95" y2="121" stroke="#f5f5f5" stroke-width="0.4"/>
<line x1="628.6" y1="11.2" x2="628.6" y2="121" stroke="#efefef" stroke-width="0.5"/>
<line x1="640.25" y1="11.2" x2="640.25" y2="121" stroke="#f5f5f5" stroke-width="0.4"/>
<line x1="651.9" y1="11.2" x2="651.9" y2="121" stroke="#efefef" stroke-width="0.5"/>
<line x1="663.55" y1="11.2" x2="663.55" y2="121" stroke="#f5f5f5" stroke-width="0.4"/>
<line x1="675.2" y1="11.2" x2="675.2" y2="121" stroke="#efefef" stroke-width="0.5"/>
<line x1="577.7" y1="116.6" x2="683.5" y2="116.6" stroke="#efefef" stroke-width="0.5"/>
<line x1="577.7" y1="103.23" x2="683.5" y2="103.23" stroke="#f5f5f5" stroke-width="0.4"/>
<line x1="577.7" y1="89.87" x2="683.5" y2="89.87" stroke="#efefef" stroke-width="0.5"/>
<line x1="577.7" y1="76.5" x2="683.5" y2="76.5" stroke="#f5f5f5" stroke-width="0.4"/>
<line x1="577.7" y1="63.13" x2="683.5" y2="63.13" stroke="#efefef" stroke-width="0.5"/>
<line x1="577.7" y1="49.77" x2="683.5" y2="49.77" stroke="#f5f5f5" stroke-width="0.4"/>
<line x1="577.7" y1="36.4" x2="683.5" y2="36.4" stroke="#efefef" stroke-width="0.5"/>
<line x1="577.7" y1="23.03" x2="683.5" y2="23.03" stroke="#f5f5f5" stroke-width="0.4"/>
<rect x="577.7" y="11.2" width="105.8" height="109.8" fill="none" stroke="#dadada" stroke-width="0.6"/>
<text x="582.1" y="127.6" font-size="6.7" fill="#3a3a3a" color="#3a3a3a" text-anchor="middle" font-weight="normal" stroke="#3a3a3a" stroke-width="0.25">0</text>
<text x="605.16" y="127.6" font-size="6.7" fill="#3a3a3a" color="#3a3a3a" text-anchor="middle" font-weight="normal" stroke="#3a3a3a" stroke-width="0.25">20</text>
<text x="628.22" y="127.6" font-size="6.7" fill="#3a3a3a" color="#3a3a3a" text-anchor="middle" font-weight="normal" stroke="#3a3a3a" stroke-width="0.25">40</text>
<text x="651.28" y="127.6" font-size="6.7" fill="#3a3a3a" color="#3a3a3a" text-anchor="middle" font-weight="normal" stroke="#3a3a3a" stroke-width="0.25">60</text>
<text x="674.34" y="127.6" font-size="6.7" fill="#3a3a3a" color="#3a3a3a" text-anchor="middle" font-weight="normal" stroke="#3a3a3a" stroke-width="0.25">80</text>
<text x="576.4" y="119" font-size="6.7" fill="#3a3a3a" color="#3a3a3a" text-anchor="end" font-weight="normal" stroke="#3a3a3a" stroke-width="0.25">0</text>
<text x="576.4" y="92.27" font-size="6.7" fill="#3a3a3a" color="#3a3a3a" text-anchor="end" font-weight="normal" stroke="#3a3a3a" stroke-width="0.25">3,000</text>
<text x="576.4" y="65.53" font-size="6.7" fill="#3a3a3a" color="#3a3a3a" text-anchor="end" font-weight="normal" stroke="#3a3a3a" stroke-width="0.25">6,000</text>
<text x="576.4" y="38.8" font-size="6.7" fill="#3a3a3a" color="#3a3a3a" text-anchor="end" font-weight="normal" stroke="#3a3a3a" stroke-width="0.25">9,000</text>
<clipPath id="d10"><rect x="325.5" y="138.6" width="106.8" height="110.2"/></clipPath>
<line x1="330.1" y1="138.6" x2="330.1" y2="248.8" stroke="#efefef" stroke-width="0.5"/>
<line x1="341.75" y1="138.6" x2="341.75" y2="248.8" stroke="#f5f5f5" stroke-width="0.4"/>
<line x1="353.4" y1="138.6" x2="353.4" y2="248.8" stroke="#efefef" stroke-width="0.5"/>
<line x1="365.05" y1="138.6" x2="365.05" y2="248.8" stroke="#f5f5f5" stroke-width="0.4"/>
<line x1="376.7" y1="138.6" x2="376.7" y2="248.8" stroke="#efefef" stroke-width="0.5"/>
<line x1="388.35" y1="138.6" x2="388.35" y2="248.8" stroke="#f5f5f5" stroke-width="0.4"/>
<line x1="400" y1="138.6" x2="400" y2="248.8" stroke="#efefef" stroke-width="0.5"/>
<line x1="411.65" y1="138.6" x2="411.65" y2="248.8" stroke="#f5f5f5" stroke-width="0.4"/>
<line x1="423.3" y1="138.6" x2="423.3" y2="248.8" stroke="#efefef" stroke-width="0.5"/>
<line x1="325.5" y1="243.3" x2="432.3" y2="243.3" stroke="#efefef" stroke-width="0.5"/>
<line x1="325.5" y1="229.6" x2="432.3" y2="229.6" stroke="#f5f5f5" stroke-width="0.4"/>
<line x1="325.5" y1="215.9" x2="432.3" y2="215.9" stroke="#efefef" stroke-width="0.5"/>
<line x1="325.5" y1="202.2" x2="432.3" y2="202.2" stroke="#f5f5f5" stroke-width="0.4"/>
<line x1="325.5" y1="188.5" x2="432.3" y2="188.5" stroke="#efefef" stroke-width="0.5"/>
<line x1="325.5" y1="174.8" x2="432.3" y2="174.8" stroke="#f5f5f5" stroke-width="0.4"/>
<line x1="325.5" y1="161.1" x2="432.3" y2="161.1" stroke="#efefef" stroke-width="0.5"/>
<line x1="325.5" y1="147.4" x2="432.3" y2="147.4" stroke="#f5f5f5" stroke-width="0.4"/>
<rect x="325.5" y="138.6" width="106.8" height="110.2" fill="none" stroke="#dadada" stroke-width="0.6"/>
<text x="330.2" y="255.4" font-size="6.7" fill="#3a3a3a" color="#3a3a3a" text-anchor="middle" font-weight="normal" stroke="#3a3a3a" stroke-width="0.25">0</text>
<text x="353.26" y="255.4" font-size="6.7" fill="#3a3a3a" color="#3a3a3a" text-anchor="middle" font-weight="normal" stroke="#3a3a3a" stroke-width="0.25">20</text>
<text x="376.32" y="255.4" font-size="6.7" fill="#3a3a3a" color="#3a3a3a" text-anchor="middle" font-weight="normal" stroke="#3a3a3a" stroke-width="0.25">40</text>
<text x="399.38" y="255.4" font-size="6.7" fill="#3a3a3a" color="#3a3a3a" text-anchor="middle" font-weight="normal" stroke="#3a3a3a" stroke-width="0.25">60</text>
<text x="422.44" y="255.4" font-size="6.7" fill="#3a3a3a" color="#3a3a3a" text-anchor="middle" font-weight="normal" stroke="#3a3a3a" stroke-width="0.25">80</text>
<text x="324.2" y="245.7" font-size="6.7" fill="#3a3a3a" color="#3a3a3a" text-anchor="end" font-weight="normal" stroke="#3a3a3a" stroke-width="0.25">0</text>
<text x="324.2" y="218.3" font-size="6.7" fill="#3a3a3a" color="#3a3a3a" text-anchor="end" font-weight="normal" stroke="#3a3a3a" stroke-width="0.25">20</text>
<text x="324.2" y="190.9" font-size="6.7" fill="#3a3a3a" color="#3a3a3a" text-anchor="end" font-weight="normal" stroke="#3a3a3a" stroke-width="0.25">40</text>
<text x="324.2" y="163.5" font-size="6.7" fill="#3a3a3a" color="#3a3a3a" text-anchor="end" font-weight="normal" stroke="#3a3a3a" stroke-width="0.25">60</text>
<clipPath id="d11"><rect x="451.2" y="138.6" width="106.8" height="110.2"/></clipPath>
<line x1="455.8" y1="138.6" x2="455.8" y2="248.8" stroke="#efefef" stroke-width="0.5"/>
<line x1="467.45" y1="138.6" x2="467.45" y2="248.8" stroke="#f5f5f5" stroke-width="0.4"/>
<line x1="479.1" y1="138.6" x2="479.1" y2="248.8" stroke="#efefef" stroke-width="0.5"/>
<line x1="490.75" y1="138.6" x2="490.75" y2="248.8" stroke="#f5f5f5" stroke-width="0.4"/>
<line x1="502.4" y1="138.6" x2="502.4" y2="248.8" stroke="#efefef" stroke-width="0.5"/>
<line x1="514.05" y1="138.6" x2="514.05" y2="248.8" stroke="#f5f5f5" stroke-width="0.4"/>
<line x1="525.7" y1="138.6" x2="525.7" y2="248.8" stroke="#efefef" stroke-width="0.5"/>
<line x1="537.35" y1="138.6" x2="537.35" y2="248.8" stroke="#f5f5f5" stroke-width="0.4"/>
<line x1="549" y1="138.6" x2="549" y2="248.8" stroke="#efefef" stroke-width="0.5"/>
<line x1="451.2" y1="243.2" x2="558" y2="243.2" stroke="#efefef" stroke-width="0.5"/>
<line x1="451.2" y1="230.46" x2="558" y2="230.46" stroke="#f5f5f5" stroke-width="0.4"/>
<line x1="451.2" y1="217.73" x2="558" y2="217.73" stroke="#efefef" stroke-width="0.5"/>
<line x1="451.2" y1="205" x2="558" y2="205" stroke="#f5f5f5" stroke-width="0.4"/>
<line x1="451.2" y1="192.26" x2="558" y2="192.26" stroke="#efefef" stroke-width="0.5"/>
<line x1="451.2" y1="179.52" x2="558" y2="179.52" stroke="#f5f5f5" stroke-width="0.4"/>
<line x1="451.2" y1="166.79" x2="558" y2="166.79" stroke="#efefef" stroke-width="0.5"/>
<line x1="451.2" y1="154.06" x2="558" y2="154.06" stroke="#f5f5f5" stroke-width="0.4"/>
<line x1="451.2" y1="141.32" x2="558" y2="141.32" stroke="#efefef" stroke-width="0.5"/>
<rect x="451.2" y="138.6" width="106.8" height="110.2" fill="none" stroke="#dadada" stroke-width="0.6"/>
<text x="455.9" y="255.4" font-size="6.7" fill="#3a3a3a" color="#3a3a3a" text-anchor="middle" font-weight="normal" stroke="#3a3a3a" stroke-width="0.25">0</text>
<text x="478.96" y="255.4" font-size="6.7" fill="#3a3a3a" color="#3a3a3a" text-anchor="middle" font-weight="normal" stroke="#3a3a3a" stroke-width="0.25">20</text>
<text x="502.02" y="255.4" font-size="6.7" fill="#3a3a3a" color="#3a3a3a" text-anchor="middle" font-weight="normal" stroke="#3a3a3a" stroke-width="0.25">40</text>
<text x="525.08" y="255.4" font-size="6.7" fill="#3a3a3a" color="#3a3a3a" text-anchor="middle" font-weight="normal" stroke="#3a3a3a" stroke-width="0.25">60</text>
<text x="548.14" y="255.4" font-size="6.7" fill="#3a3a3a" color="#3a3a3a" text-anchor="middle" font-weight="normal" stroke="#3a3a3a" stroke-width="0.25">80</text>
<text x="449.9" y="245.6" font-size="6.7" fill="#3a3a3a" color="#3a3a3a" text-anchor="end" font-weight="normal" stroke="#3a3a3a" stroke-width="0.25">0</text>
<text x="449.9" y="220.13" font-size="6.7" fill="#3a3a3a" color="#3a3a3a" text-anchor="end" font-weight="normal" stroke="#3a3a3a" stroke-width="0.25">30</text>
<text x="449.9" y="194.66" font-size="6.7" fill="#3a3a3a" color="#3a3a3a" text-anchor="end" font-weight="normal" stroke="#3a3a3a" stroke-width="0.25">60</text>
<text x="449.9" y="169.19" font-size="6.7" fill="#3a3a3a" color="#3a3a3a" text-anchor="end" font-weight="normal" stroke="#3a3a3a" stroke-width="0.25">90</text>
<text x="449.9" y="143.72" font-size="6.7" fill="#3a3a3a" color="#3a3a3a" text-anchor="end" font-weight="normal" stroke="#3a3a3a" stroke-width="0.25">120</text>
<clipPath id="d12"><rect x="577.7" y="138.6" width="105.8" height="110.2"/></clipPath>
<line x1="582" y1="138.6" x2="582" y2="248.8" stroke="#efefef" stroke-width="0.5"/>
<line x1="593.65" y1="138.6" x2="593.65" y2="248.8" stroke="#f5f5f5" stroke-width="0.4"/>
<line x1="605.3" y1="138.6" x2="605.3" y2="248.8" stroke="#efefef" stroke-width="0.5"/>
<line x1="616.95" y1="138.6" x2="616.95" y2="248.8" stroke="#f5f5f5" stroke-width="0.4"/>
<line x1="628.6" y1="138.6" x2="628.6" y2="248.8" stroke="#efefef" stroke-width="0.5"/>
<line x1="640.25" y1="138.6" x2="640.25" y2="248.8" stroke="#f5f5f5" stroke-width="0.4"/>
<line x1="651.9" y1="138.6" x2="651.9" y2="248.8" stroke="#efefef" stroke-width="0.5"/>
<line x1="663.55" y1="138.6" x2="663.55" y2="248.8" stroke="#f5f5f5" stroke-width="0.4"/>
<line x1="675.2" y1="138.6" x2="675.2" y2="248.8" stroke="#efefef" stroke-width="0.5"/>
<line x1="577.7" y1="243.2" x2="683.5" y2="243.2" stroke="#efefef" stroke-width="0.5"/>
<line x1="577.7" y1="232.39" x2="683.5" y2="232.39" stroke="#f5f5f5" stroke-width="0.4"/>
<line x1="577.7" y1="221.57" x2="683.5" y2="221.57" stroke="#efefef" stroke-width="0.5"/>
<line x1="577.7" y1="210.76" x2="683.5" y2="210.76" stroke="#f5f5f5" stroke-width="0.4"/>
<line x1="577.7" y1="199.95" x2="683.5" y2="199.95" stroke="#efefef" stroke-width="0.5"/>
<line x1="577.7" y1="189.14" x2="683.5" y2="189.14" stroke="#f5f5f5" stroke-width="0.4"/>
<line x1="577.7" y1="178.32" x2="683.5" y2="178.32" stroke="#efefef" stroke-width="0.5"/>
<line x1="577.7" y1="167.51" x2="683.5" y2="167.51" stroke="#f5f5f5" stroke-width="0.4"/>
<line x1="577.7" y1="156.7" x2="683.5" y2="156.7" stroke="#efefef" stroke-width="0.5"/>
<line x1="577.7" y1="145.89" x2="683.5" y2="145.89" stroke="#f5f5f5" stroke-width="0.4"/>
<rect x="577.7" y="138.6" width="105.8" height="110.2" fill="none" stroke="#dadada" stroke-width="0.6"/>
<text x="582.1" y="255.4" font-size="6.7" fill="#3a3a3a" color="#3a3a3a" text-anchor="middle" font-weight="normal" stroke="#3a3a3a" stroke-width="0.25">0</text>
<text x="605.16" y="255.4" font-size="6.7" fill="#3a3a3a" color="#3a3a3a" text-anchor="middle" font-weight="normal" stroke="#3a3a3a" stroke-width="0.25">20</text>
<text x="628.22" y="255.4" font-size="6.7" fill="#3a3a3a" color="#3a3a3a" text-anchor="middle" font-weight="normal" stroke="#3a3a3a" stroke-width="0.25">40</text>
<text x="651.28" y="255.4" font-size="6.7" fill="#3a3a3a" color="#3a3a3a" text-anchor="middle" font-weight="normal" stroke="#3a3a3a" stroke-width="0.25">60</text>
<text x="674.34" y="255.4" font-size="6.7" fill="#3a3a3a" color="#3a3a3a" text-anchor="middle" font-weight="normal" stroke="#3a3a3a" stroke-width="0.25">80</text>
<text x="576.4" y="245.6" font-size="6.7" fill="#3a3a3a" color="#3a3a3a" text-anchor="end" font-weight="normal" stroke="#3a3a3a" stroke-width="0.25">0</text>
<text x="576.4" y="223.97" font-size="6.7" fill="#3a3a3a" color="#3a3a3a" text-anchor="end" font-weight="normal" stroke="#3a3a3a" stroke-width="0.25">50</text>
<text x="576.4" y="202.35" font-size="6.7" fill="#3a3a3a" color="#3a3a3a" text-anchor="end" font-weight="normal" stroke="#3a3a3a" stroke-width="0.25">100</text>
<text x="576.4" y="180.72" font-size="6.7" fill="#3a3a3a" color="#3a3a3a" text-anchor="end" font-weight="normal" stroke="#3a3a3a" stroke-width="0.25">150</text>
<text x="576.4" y="159.1" font-size="6.7" fill="#3a3a3a" color="#3a3a3a" text-anchor="end" font-weight="normal" stroke="#3a3a3a" stroke-width="0.25">200</text>
<path d="M352,66.75 C353.03,67.12 356.25,68.03 358.2,68.99 C360.15,69.94 361.85,71.16 363.7,72.47 C365.55,73.79 367.42,75.47 369.3,76.87 C371.18,78.26 373.22,79.47 375,80.85 C376.78,82.23 377.98,83.54 380,85.15 C382.02,86.75 384.6,88.51 387.1,90.5 C389.6,92.5 391.72,95.03 395,97.12 C398.28,99.22 402.88,101.22 406.8,103.08 C410.72,104.93 415.07,106.96 418.5,108.25 C421.93,109.54 425.92,110.38 427.4,110.8 L427.4,119.8 C425.92,119.12 421.93,117.5 418.5,115.75 C415.07,114 410.72,111.47 406.8,109.33 C402.88,107.18 398.28,105.01 395,102.88 C391.72,100.74 389.6,98.5 387.1,96.5 C384.6,94.49 382.02,92.55 380,90.85 C377.98,89.16 376.78,87.87 375,86.35 C373.22,84.83 371.18,83.34 369.3,81.73 C367.42,80.13 365.55,78.28 363.7,76.72 C361.85,75.17 360.15,73.66 358.2,72.41 C356.25,71.17 353.03,69.78 352,69.25 Z" fill="#7fd0f2" fill-opacity="0.55" clip-path="url(#d00)"/>
<path d="M357.8,56.1 L358.5,59 L359.5,62.7 L363.9,70.4 L367.8,77.1 L371.1,83.7 L374.7,91.5 L377.4,98.5 L380,102.5 L385.2,107.5 L390.4,110 L397.3,110.8 L402.5,110.8 L406,109.5 L406,121.2 L402.5,121.2 L397.3,120.5 L390.4,118.5 L385.2,114.5 L380,108.5 L376,103 L373,96.5 L369.8,90.5 L367.5,85 L365.3,80.4 L360.8,72.6 L355.3,63.3 L355.7,60 L356.4,56.1 Z" fill="#e8303a" fill-opacity="0.4" clip-path="url(#d00)" stroke="none"/>
<path d="M352,68 C353.03,68.45 356.25,69.6 358.2,70.7 C360.15,71.8 361.85,73.17 363.7,74.6 C365.55,76.03 367.42,77.8 369.3,79.3 C371.18,80.8 373.22,82.15 375,83.6 C376.78,85.05 377.98,86.35 380,88 C382.02,89.65 384.6,91.5 387.1,93.5 C389.6,95.5 391.72,97.88 395,100 C398.28,102.12 402.88,104.2 406.8,106.2 C410.72,108.2 415.07,110.48 418.5,112 C421.93,113.52 425.92,114.75 427.4,115.3" fill="none" stroke="#3aa8e0" stroke-width="0.6" stroke-opacity="0.85" stroke-linejoin="round" clip-path="url(#d00)"/>
<path d="M357.33,62.34 L358.13,64.25 L359.19,66.08 L360.26,67.92 L361.33,69.75 L362.4,71.59 L363.47,73.42 L364.53,75.26 L365.6,77.1 L366.64,78.95 L367.58,80.85 L368.51,82.76 L369.42,84.68 L370.28,86.62 L371.13,88.57 L372.07,90.47 L373.02,92.37 L373.94,94.28 L374.78,96.23 L375.61,98.18 L376.44,100.14 L377.53,101.95 L378.73,103.7 L380,105.39 L381.42,106.96 L382.88,108.5 L384.34,110.04 L385.94,111.38 L387.74,112.49 L389.53,113.61 L391.43,114.39 L393.5,114.82 L395.57,115.25 L397.65,115.62 L399.76,115.79 L401.87,115.94 L403.94,115.7 L406,115.35" fill="none" stroke="#e02030" stroke-width="0.6" stroke-opacity="0.85" stroke-linejoin="round" clip-path="url(#d00)"/>
<path d="M329.72,22.44h0.01M330.54,23.32h0.01M330.66,24.79h0.01M330.34,26.76h0.01M330.76,28.39h0.01M331.21,29.1h0.01M332.18,31.52h0.01M332.05,31.56h0.01M333.2,33.72h0.01M333.87,32.33h0.01M335.26,31.27h0.01M335.57,31.41h0.01M334.93,30.89h0.01M335.69,32.76h0.01M335.99,33.13h0.01M337.47,33.55h0.01M338.08,33.8h0.01M337.8,34.78h0.01M339.29,35.88h0.01M339.2,36.89h0.01M339.93,37.18h0.01M340.97,38.82h0.01M340.59,39.62h0.01M341.44,41.1h0.01M342.17,41.16h0.01M342.92,42.64h0.01M342.37,45.41h0.01M342.19,46.48h0.01M342.26,48.27h0.01M343.57,49.37h0.01M343.9,50.2h0.01M343.96,51.65h0.01M344.13,52.43h0.01M345.04,54.11h0.01M344.96,54.56h0.01M344.8,55.97h0.01M346.24,57.79h0.01M347.27,57.41h0.01M347.32,58.77h0.01M347.49,59.19h0.01M348.47,59.39h0.01M349.04,61.43h0.01M349.91,61.6h0.01M350.83,63.59h0.01M350.83,63.92h0.01M352.08,65.61h0.01" stroke="#45bbec" stroke-width="1.3" stroke-linecap="round" stroke-opacity="0.6" fill="none" clip-path="url(#d00)"/>
<path d="M330.01,20.08h0.01M329.65,20.36h0.01M330.27,22.11h0.01M331.57,19.94h0.01M330.65,19.07h0.01M331.07,18.48h0.01M332.14,17.62h0.01M331.71,17.37h0.01M332.89,17.41h0.01M334.42,17.4h0.01M334.12,18.24h0.01M334.78,18.29h0.01M335.39,20.2h0.01M335.6,20.98h0.01M335.33,21.59h0.01M335.37,23.21h0.01M335.55,23.06h0.01M336.03,23.96h0.01M336.49,24.53h0.01M336.2,25.44h0.01M336.86,26.53h0.01M337.24,28.1h0.01M338.43,27.44h0.01M338.1,28.26h0.01M338.53,28.65h0.01M339.56,30.79h0.01M339.45,30.47h0.01M339.34,30.36h0.01M340,31.12h0.01M341.03,31.46h0.01M339.99,33.47h0.01M341.05,32.93h0.01M341.32,33.49h0.01M341.54,35.77h0.01M342.25,36.31h0.01M341.45,36.79h0.01M341.47,38.44h0.01M342.3,39.45h0.01M342.23,39.56h0.01M343.25,41.78h0.01M343.56,42.49h0.01M343.76,43.38h0.01M343.06,44.03h0.01M343.52,44h0.01M343.24,45.15h0.01M344.11,46.31h0.01M345.73,46.42h0.01M346.2,47.63h0.01M346.73,46.98h0.01M346.05,47.16h0.01M346.51,47.53h0.01M347.7,48.89h0.01M348.54,48.47h0.01M348.74,49.73h0.01M348.34,50.26h0.01M349.91,51.7h0.01M349.9,52.46h0.01M349.24,53.71h0.01M349.73,54.48h0.01M351.25,54.83h0.01M350.84,56.71h0.01M351.86,56.47h0.01M351.4,57.44h0.01M353.15,58.99h0.01M352.43,59.52h0.01M354.27,59.75h0.01M353.76,60.08h0.01M353.91,59.72h0.01" stroke="#e8303a" stroke-width="1.4" stroke-linecap="round" stroke-opacity="0.65" fill="none" clip-path="url(#d00)"/>
<path d="M352.28,67.42h0.01M353.35,67.69h0.01M354.15,69.99h0.01M355.1,68.35h0.01M356.22,69.75h0.01M357.52,70.95h0.01M358.41,70.58h0.01M359.9,71.93h0.01M360.65,71.48h0.01M362.08,73.55h0.01M362.88,74.87h0.01M364.04,74.4h0.01M365.13,76.64h0.01M366.02,76.8h0.01M367,77.77h0.01M368.38,78.07h0.01M369.62,78.77h0.01M370.59,80.02h0.01M371.7,81.17h0.01M372.8,81.54h0.01M373.7,82.5h0.01M374.95,84.92h0.01M376.08,84.63h0.01M377.1,83.72h0.01M378.29,85.48h0.01M379.43,87.37h0.01M380.38,87.43h0.01M381.77,88.98h0.01M382.72,91.38h0.01M383.55,89.52h0.01M384.82,93.14h0.01M385.66,92.02h0.01M386.74,93.11h0.01M387.91,94.4h0.01M388.9,94.51h0.01M390.48,94.86h0.01M391.13,96.74h0.01M392.22,96.74h0.01M393.75,99.34h0.01M394.89,99.57h0.01M395.65,97.96h0.01M397,101.14h0.01M397.69,100.65h0.01M398.89,102.5h0.01M399.9,102.14h0.01M400.89,104.41h0.01M402.3,103.68h0.01M403.26,104.45h0.01M404.53,104.68h0.01M405.84,105.52h0.01M406.81,106.49h0.01M407.59,106.59h0.01M408.55,107.32h0.01M409.69,107.12h0.01M410.96,109.54h0.01M411.96,108.05h0.01M412.98,110.28h0.01M414.41,109.41h0.01M415.13,111.6h0.01M416.43,111.43h0.01M417.31,112.59h0.01M418.84,111.63h0.01M419.5,112.65h0.01M421.06,112.64h0.01M421.91,112.73h0.01M423.28,114.54h0.01M423.98,114.76h0.01M425.06,115.2h0.01M426.07,115.03h0.01M427.22,115.52h0.01" stroke="#45bbec" stroke-width="1.2" stroke-linecap="round" stroke-opacity="0.65" fill="none" clip-path="url(#d00)"/>
<path d="M357.98,63.85h0.01M359.03,67.19h0.01M360.26,68.2h0.01M360.95,70.33h0.01M362.2,72.72h0.01M363.51,73.53h0.01M364.28,73.65h0.01M365.28,77.36h0.01M366.89,78.2h0.01M367.85,81.19h0.01M368.43,81.69h0.01M369.8,84.64h0.01M370.15,87.16h0.01M371.24,87.61h0.01M371.99,90.33h0.01M372.72,92.56h0.01M373.6,94.25h0.01M374.51,95.69h0.01M375.27,98.95h0.01M376.57,98.95h0.01M377.35,101.98h0.01M378.7,104.28h0.01M379.72,104.88h0.01M381.79,107.14h0.01M383.26,108h0.01M384.71,109.89h0.01M385.79,111.35h0.01M387.64,112.52h0.01M389.51,113.14h0.01M391.43,114.39h0.01M393.1,114.79h0.01M395.49,115.55h0.01M397.28,116.21h0.01M399.55,115.87h0.01M401.94,114.79h0.01M404.07,115.49h0.01M406.17,115.85h0.01M360.05,67.3h0.01M362.98,72.44h0.01M364.7,76.43h0.01M366.09,79.92h0.01M368.67,81.13h0.01M370.56,86.81h0.01M372.1,90.01h0.01M373.94,95.11h0.01M376,96.78h0.01M377.63,103.01h0.01M380.23,104.54h0.01M382.56,108.97h0.01M385.78,111.47h0.01M389.05,114.2h0.01M393.65,113.83h0.01M397.8,115.18h0.01M401.28,114.99h0.01M406.36,115.34h0.01" stroke="#e8303a" stroke-width="1.3" stroke-linecap="round" stroke-opacity="0.75" fill="none" clip-path="url(#d00)"/>
<path d="M482.8,56.12 C484.33,57.35 488.58,60.83 492,63.47 C495.42,66.12 499.05,68.71 503.3,71.97 C507.55,75.24 512.77,79.35 517.5,83.08 C522.23,86.8 527.62,91.61 531.7,94.35 C535.78,97.09 538.53,97.7 542,99.51 C545.47,101.33 550.75,104.29 552.5,105.25 L552.5,117.75 C550.75,116.37 545.47,112.14 542,109.49 C538.53,106.84 535.78,105.04 531.7,101.85 C527.62,98.66 522.23,93.93 517.5,90.33 C512.77,86.72 507.55,83.32 503.3,80.22 C499.05,77.12 495.42,74.78 492,71.72 C488.58,68.67 484.33,63.52 482.8,61.88 Z" fill="#7fd0f2" fill-opacity="0.55" clip-path="url(#d01)"/>
<path d="M483.6,35.7 L485.8,44.5 L489.2,50 L491.5,55 L494.4,61.5 L497.3,67.9 L499.9,74.3 L502.4,80.7 L506.3,90 L510.7,97 L516.5,103.4 L524.1,108.2 L531.7,110.1 L531.7,120.8 L524.1,117 L516.5,111.5 L510.7,106 L505,98.5 L502.5,95 L499.1,90 L495.2,80.7 L493,74.3 L490.7,67.9 L488.5,61.5 L486.2,55 L484.8,50 L483.1,44.5 L483.6,35.7 Z" fill="#e8303a" fill-opacity="0.4" clip-path="url(#d01)" stroke="none"/>
<path d="M483.5,57.7 C484.25,59.08 486.58,63.53 488,66 C489.42,68.47 489.92,70.57 492,72.5 C494.08,74.43 497.67,76.18 500.5,77.6 C503.33,79.02 506.17,79.77 509,81 C511.83,82.23 514.92,83.33 517.5,85 C520.08,86.67 522.13,88.93 524.5,91 C526.87,93.07 528.95,95.23 531.7,97.4 C534.45,99.57 537.7,101.48 541,104 C544.3,106.52 549.75,111.08 551.5,112.5" fill="none" stroke="#3aa8e0" stroke-width="0.6" stroke-opacity="0.85" stroke-linejoin="round" clip-path="url(#d01)"/>
<path d="M484.23,42.92 L484.72,45.28 L485.71,47.5 L486.69,49.71 L487.61,51.96 L488.46,54.24 L489.37,56.5 L490.28,58.77 L491.17,61.04 L492.06,63.32 L492.95,65.59 L493.87,67.85 L494.78,70.12 L495.65,72.4 L496.51,74.69 L497.36,76.98 L498.26,79.25 L499.18,81.51 L500.09,83.78 L501.04,86.03 L502.16,88.19 L503.33,90.32 L504.51,92.45 L505.79,94.51 L507.18,96.52 L508.57,98.53 L509.97,100.53 L511.53,102.41 L513.24,104.15 L514.95,105.89 L516.71,107.57 L518.73,108.95 L520.75,110.32 L522.77,111.69 L524.88,112.88 L527.15,113.74 L529.43,114.59 L531.7,115.45" fill="none" stroke="#e02030" stroke-width="0.6" stroke-opacity="0.85" stroke-linejoin="round" clip-path="url(#d01)"/>
<path d="M456.06,21.35h0.01M455.61,22.43h0.01M456.2,22.32h0.01M456.67,24.37h0.01M457.03,25.38h0.01M459.06,26.09h0.01M458.91,27.17h0.01M460.09,27.28h0.01M460.69,26.73h0.01M460.47,25.44h0.01M461.41,25.89h0.01M462.14,25.46h0.01M462.32,24.5h0.01M463.43,26.13h0.01M464.81,26.78h0.01M465.02,27.38h0.01M466.14,28.15h0.01M466.09,29.98h0.01M466.72,31.27h0.01M468.4,31.08h0.01M468.13,33.71h0.01M469.45,34.77h0.01M468.83,36.04h0.01M470.25,37.3h0.01M470,38.46h0.01M470.24,41.02h0.01M470.11,41.66h0.01M471.21,42.62h0.01M472.03,42.27h0.01M472.84,43.38h0.01M472.24,43.41h0.01M473.79,44.92h0.01M474.23,45.13h0.01M475.05,46.11h0.01M476.34,46.9h0.01M476.7,49.54h0.01M476.19,50.88h0.01M477.64,52.04h0.01M477.71,51.75h0.01M478.63,53.3h0.01M479.69,52.78h0.01M480.18,53.14h0.01M480.18,53.36h0.01" stroke="#45bbec" stroke-width="1.3" stroke-linecap="round" stroke-opacity="0.6" fill="none" clip-path="url(#d01)"/>
<path d="M455.94,17.76h0.01M456.65,17.4h0.01M456.13,17.52h0.01M456.5,17.05h0.01M458.23,17.61h0.01M458.8,17.06h0.01M459.76,17.41h0.01M459.88,17.95h0.01M459.78,18.87h0.01M460.95,19.77h0.01M461.8,19.89h0.01M461.38,21.78h0.01M461.95,21.76h0.01M462.75,22.18h0.01M463.93,24.06h0.01M463.72,24.35h0.01M464.33,24.54h0.01M465.03,24.27h0.01M465.16,24.53h0.01M466.85,25.2h0.01M465.95,26.85h0.01M467.39,27.12h0.01M466.22,27.71h0.01M466.35,28.95h0.01M466.55,29.78h0.01M467.31,31.71h0.01M468.82,33.4h0.01M468.39,33.96h0.01M468.91,35h0.01M468.94,35.6h0.01M469.34,36.8h0.01M469.6,35.81h0.01M470.91,36.13h0.01M470.75,34.93h0.01M471.45,35.39h0.01M472.41,36.53h0.01M473.96,36.65h0.01M473.53,35.55h0.01M475.64,37.93h0.01M476.26,38.44h0.01M476,38.98h0.01M477.98,40.52h0.01M478.37,41.91h0.01M477.9,41.67h0.01M478.6,42.69h0.01M480.29,43.71h0.01M481,43.44h0.01M481.72,43.33h0.01M481.98,42.96h0.01" stroke="#e8303a" stroke-width="1.4" stroke-linecap="round" stroke-opacity="0.65" fill="none" clip-path="url(#d01)"/>
<path d="M483.67,56.75h0.01M484.33,60.53h0.01M485.35,60.78h0.01M486.23,63.14h0.01M487.56,66.11h0.01M488.19,67.58h0.01M489.46,68.71h0.01M490.33,70.08h0.01M491.09,72.57h0.01M492.25,70.76h0.01M493.44,73.81h0.01M494.57,73.33h0.01M495.17,74.59h0.01M496.59,74.89h0.01M497.01,75.02h0.01M498.28,75.89h0.01M499.12,76.12h0.01M500.35,77.96h0.01M500.96,77.64h0.01M502.13,77.23h0.01M503.03,79.26h0.01M504.37,79.01h0.01M505,78.53h0.01M506.45,79.31h0.01M506.99,81.63h0.01M507.97,80.7h0.01M509.39,80.39h0.01M510.11,81.74h0.01M511.04,82.51h0.01M512.18,82.88h0.01M513,82.77h0.01M513.88,83.81h0.01M514.77,83.77h0.01M515.76,82.96h0.01M517.24,85.83h0.01M518.13,87.28h0.01M518.88,86.24h0.01M519.78,88.33h0.01M520.67,87.44h0.01M522.03,88.24h0.01M522.82,90.18h0.01M523.71,91.14h0.01M524.8,91.36h0.01M526.15,93.7h0.01M526.69,94.55h0.01M527.76,94.62h0.01M528.79,93.51h0.01M529.55,94.97h0.01M531.06,96.73h0.01M531.61,96.34h0.01M532.49,99.45h0.01M533.71,99.38h0.01M534.47,98.3h0.01M535.45,101.92h0.01M536.57,101.65h0.01M537.85,102.25h0.01M538.55,101.93h0.01M539.95,102.6h0.01M540.79,103.34h0.01M541.53,104.51h0.01M542.78,105.39h0.01M543.87,104.84h0.01M544.32,105.49h0.01M545.43,105.73h0.01M546.84,108.82h0.01M547.49,109.3h0.01M548.54,110.95h0.01M549.79,111.49h0.01M550.66,113.02h0.01M551.69,112.66h0.01" stroke="#45bbec" stroke-width="1.2" stroke-linecap="round" stroke-opacity="0.65" fill="none" clip-path="url(#d01)"/>
<path d="M484.58,44.34h0.01M485.56,46.71h0.01M486.35,50.65h0.01M487.36,51.97h0.01M488.11,53.71h0.01M489,55.92h0.01M490.66,58.57h0.01M491.48,61.59h0.01M491.73,63.28h0.01M492.63,64.49h0.01M493.82,67.86h0.01M494.57,69.27h0.01M495.79,72.89h0.01M496.7,75.28h0.01M497.06,76.13h0.01M498.53,79h0.01M499.07,82.38h0.01M500.28,83.94h0.01M500.83,86.53h0.01M501.88,88.88h0.01M503.19,89.71h0.01M504.42,93.28h0.01M505.58,94.47h0.01M507.43,95.3h0.01M508.25,96.76h0.01M509.95,101.1h0.01M511.86,101.19h0.01M512.87,104.05h0.01M514.7,106.23h0.01M517.09,106.17h0.01M518.63,108.14h0.01M521.04,109.81h0.01M522.99,111.87h0.01M525.24,113.63h0.01M527.25,114.32h0.01M529.2,114.33h0.01M531.46,115.73h0.01M486.39,48.65h0.01M488.1,53.47h0.01M489.69,58.14h0.01M491.68,64.52h0.01M493.64,68.32h0.01M495.71,73.93h0.01M496.84,77.7h0.01M499.24,82.05h0.01M501.2,86.48h0.01M503.56,90.61h0.01M505.68,94.35h0.01M509.12,99.28h0.01M511.31,101.63h0.01M514.85,105.55h0.01M519.17,109.81h0.01M522.41,111.68h0.01M527.43,113.77h0.01M532.18,115.54h0.01" stroke="#e8303a" stroke-width="1.3" stroke-linecap="round" stroke-opacity="0.75" fill="none" clip-path="url(#d01)"/>
<path d="M609.3,64.58 C610.42,64.97 613.58,65.9 616,66.95 C618.42,68 621.22,69.52 623.8,70.88 C626.38,72.23 628.85,73.66 631.5,75.09 C634.15,76.52 636.12,77.23 639.7,79.45 C643.28,81.67 648.58,85.63 653,88.42 C657.42,91.22 661.8,93.6 666.2,96.22 C670.6,98.85 677.2,102.87 679.4,104.2 L679.4,116.2 C677.2,114.66 670.6,109.65 666.2,106.97 C661.8,104.3 657.42,102.68 653,100.17 C648.58,97.67 643.28,94.33 639.7,91.95 C636.12,89.57 634.15,87.88 631.5,85.91 C628.85,83.94 626.38,82.1 623.8,80.12 C621.22,78.15 618.42,75.77 616,74.05 C613.58,72.33 610.42,70.53 609.3,69.83 Z" fill="#7fd0f2" fill-opacity="0.55" clip-path="url(#d02)"/>
<path d="M609.4,39.6 L611,45 L613.1,51.7 L617.6,60.6 L620.7,68.5 L623.2,75 L625.7,79.5 L628.7,86 L631.4,91 L636.5,100.6 L644.1,106.3 L651.8,109.2 L658.4,109.5 L658.4,121.5 L651.8,120.1 L644.1,116.8 L636.5,110.1 L630.7,101.5 L624.3,93 L622.6,89.5 L620.8,84.5 L618.5,78.4 L616.3,71.5 L613.5,64.8 L611.7,60.6 L608.9,51.7 L609.3,45 L609.4,39.6 Z" fill="#e8303a" fill-opacity="0.4" clip-path="url(#d02)" stroke="none"/>
<path d="M610.6,65.9 C611.83,67.17 615.35,71.07 618,73.5 C620.65,75.93 623.83,78.67 626.5,80.5 C629.17,82.33 631.35,83.28 634,84.5 C636.65,85.72 639.73,86.47 642.4,87.8 C645.07,89.13 647.35,90.97 650,92.5 C652.65,94.03 655.3,95.17 658.3,97 C661.3,98.83 664.48,101.08 668,103.5 C671.52,105.92 677.5,110.17 679.4,111.5" fill="none" stroke="#3aa8e0" stroke-width="0.6" stroke-opacity="0.85" stroke-linejoin="round" clip-path="url(#d02)"/>
<path d="M610.26,46.72 L610.53,49.09 L610.92,51.44 L611.72,53.72 L612.62,55.96 L613.52,58.2 L614.5,60.41 L615.51,62.61 L616.42,64.86 L617.33,67.1 L618.24,69.35 L619.04,71.63 L619.84,73.91 L620.65,76.2 L621.56,78.44 L622.57,80.64 L623.56,82.84 L624.47,85.08 L625.45,87.29 L626.5,89.47 L627.81,91.5 L629.12,93.53 L630.43,95.56 L631.74,97.59 L633,99.66 L634.25,101.73 L635.5,103.8 L637,105.65 L638.84,107.21 L640.72,108.75 L642.59,110.28 L644.54,111.67 L646.76,112.61 L649.01,113.52 L651.26,114.42 L653.61,114.86 L656.01,115.18 L658.4,115.5" fill="none" stroke="#e02030" stroke-width="0.6" stroke-opacity="0.85" stroke-linejoin="round" clip-path="url(#d02)"/>
<path d="M581.98,20.61h0.01M582.4,21.91h0.01M582.94,21.96h0.01M582.77,23.93h0.01M584.33,25.86h0.01M583.89,26.55h0.01M584.79,27.51h0.01M584.98,28.5h0.01M586.13,30.88h0.01M586.17,29.08h0.01M587.99,28.75h0.01M587.82,26.5h0.01M589.81,26.96h0.01M589.77,26.39h0.01M591.18,27.82h0.01M592,29.29h0.01M592.72,29.66h0.01M593.16,30.91h0.01M593.05,33.05h0.01M594.23,33.39h0.01M593.75,35.14h0.01M594.56,36.68h0.01M594.26,38.03h0.01M595.56,40.64h0.01M594.8,41.57h0.01M596.28,42.19h0.01M596.74,43.79h0.01M597.01,45.18h0.01M597.7,45.49h0.01M598.22,46.73h0.01M599.08,47.65h0.01M599.91,48.35h0.01M600.04,49.69h0.01M601.53,50.03h0.01M602.72,51.85h0.01M602.98,51.94h0.01M603.76,52.87h0.01M603.96,54.39h0.01M604.65,55.41h0.01M606.07,55.77h0.01M607.02,56.83h0.01M607.92,58.94h0.01" stroke="#45bbec" stroke-width="1.3" stroke-linecap="round" stroke-opacity="0.6" fill="none" clip-path="url(#d02)"/>
<path d="M582.12,18.39h0.01M582.81,18.35h0.01M584.22,17.42h0.01M585.07,18.14h0.01M585.87,17.2h0.01M585.66,18.62h0.01M586.79,19.73h0.01M587.9,19.5h0.01M588.13,21.76h0.01M587.4,21.86h0.01M589.21,22.4h0.01M590.13,23.44h0.01M590.86,23.93h0.01M591.2,25.87h0.01M591.23,26.22h0.01M592.21,27.71h0.01M591.79,28.56h0.01M592.32,30.83h0.01M593.49,31.83h0.01M593.17,33.06h0.01M593.58,34.05h0.01M594.75,34.88h0.01M595.46,36.29h0.01M595.33,37.91h0.01M595.57,38.09h0.01M597.41,37.13h0.01M598.68,36.92h0.01M599.98,37.42h0.01M599.53,38.22h0.01M600.21,37.78h0.01M601.19,38.08h0.01M601.81,38.91h0.01M602.02,41.14h0.01M602.44,41.7h0.01M602.5,41.7h0.01M602.55,42.91h0.01M603.99,44.32h0.01M604.32,46.03h0.01M604.46,45.76h0.01M606.04,46.24h0.01M605.75,47.47h0.01M606.67,48.17h0.01M607.46,49.08h0.01" stroke="#e8303a" stroke-width="1.4" stroke-linecap="round" stroke-opacity="0.65" fill="none" clip-path="url(#d02)"/>
<path d="M610.65,66.22h0.01M611.58,68h0.01M612.38,68.5h0.01M613.38,68.74h0.01M614.35,68.95h0.01M615.75,69.78h0.01M616.52,72.03h0.01M617.67,73.19h0.01M618.61,73.3h0.01M619.54,75.73h0.01M620.83,75.55h0.01M621.81,75.84h0.01M622.29,76.46h0.01M623.4,77.92h0.01M624.29,78.92h0.01M625.59,79.6h0.01M626.82,80.86h0.01M627.62,81.48h0.01M628.55,80.67h0.01M629.35,80.99h0.01M630.43,82.58h0.01M631.77,83.43h0.01M632.71,83.7h0.01M633.74,84.16h0.01M634.68,83.42h0.01M635.5,85.39h0.01M636.36,85.95h0.01M637.25,86.24h0.01M638.42,86.27h0.01M639.72,85.43h0.01M640.64,86.96h0.01M641.47,88.46h0.01M642.68,87.24h0.01M643.59,88.39h0.01M644.78,89.44h0.01M645.21,91.33h0.01M646.35,90.45h0.01M647.76,92.26h0.01M648.64,90.8h0.01M649.38,93.64h0.01M650.33,93.71h0.01M651.6,92.68h0.01M652.58,94.74h0.01M653.68,94.27h0.01M654.59,95.46h0.01M655.6,94.8h0.01M656.51,95.81h0.01M657.54,97.06h0.01M658.21,97.49h0.01M659.17,97.54h0.01M660.22,99.11h0.01M661.24,98.79h0.01M662.17,100.97h0.01M663.53,100.77h0.01M664.56,101.09h0.01M665.49,101.49h0.01M666.36,103.06h0.01M667.67,101.77h0.01M668.17,105h0.01M669.7,103.19h0.01M670.19,105.31h0.01M671.14,106.28h0.01M672.63,107.03h0.01M673.61,106.25h0.01M674.49,107.92h0.01M675.17,109.06h0.01M676.56,109.6h0.01M677.36,110.77h0.01M678.12,110.77h0.01M679.53,112.15h0.01" stroke="#45bbec" stroke-width="1.2" stroke-linecap="round" stroke-opacity="0.65" fill="none" clip-path="url(#d02)"/>
<path d="M610.42,48.31h0.01M610.92,53.07h0.01M612,53.59h0.01M612.55,55.84h0.01M613.47,58.29h0.01M614.66,59.77h0.01M615.54,62.9h0.01M616.09,66.22h0.01M617.59,67.12h0.01M618,69.38h0.01M619.25,71.69h0.01M619.84,73.91h0.01M620.65,76.33h0.01M621.56,78.01h0.01M622.45,80.9h0.01M623.91,82.36h0.01M624.3,85.32h0.01M625.45,88.35h0.01M626.19,89.28h0.01M628.04,91.28h0.01M629.28,93.76h0.01M630.32,94.6h0.01M631.66,96.43h0.01M632.67,100.56h0.01M634.56,102.2h0.01M635.31,103.87h0.01M637.32,104.97h0.01M639.15,107.21h0.01M640.5,107.91h0.01M642.79,110.49h0.01M644.74,111.28h0.01M646.63,112.09h0.01M648.73,114.09h0.01M651.45,113.56h0.01M653.35,113.75h0.01M656.07,115.63h0.01M658.1,114.09h0.01M611.41,54.16h0.01M613.15,57.75h0.01M615.92,63.94h0.01M616.92,67.48h0.01M618.84,72.19h0.01M620.68,76.62h0.01M622.19,81.32h0.01M625.04,85.02h0.01M627.06,89.06h0.01M628.65,91.6h0.01M632.09,99.31h0.01M634.53,101.18h0.01M637.17,105.89h0.01M640.24,108.99h0.01M643.98,112.53h0.01M648.89,113.87h0.01M653.61,113.53h0.01M658.56,115.02h0.01" stroke="#e8303a" stroke-width="1.3" stroke-linecap="round" stroke-opacity="0.75" fill="none" clip-path="url(#d02)"/>
<path d="M356.9,174.4 C357.75,174.43 360.02,174.45 362,174.6 C363.98,174.75 366.88,174.82 368.8,175.3 C370.72,175.78 371.95,176.62 373.5,177.5 C375.05,178.38 376.03,178.78 378.1,180.6 C380.17,182.42 383.55,185.53 385.9,188.4 C388.25,191.27 390.37,194.4 392.2,197.8 C394.03,201.2 395.5,204.88 396.9,208.8 C398.3,212.72 399.45,217.13 400.6,221.3 C401.75,225.47 402.97,230.17 403.8,233.8 C404.63,237.43 405.08,240.23 405.6,243.1 C406.12,245.97 406.68,249.68 406.9,251 L401.2,251 C401,250.22 400.62,248.65 400,246.3 C399.38,243.95 398.53,240.3 397.5,236.9 C396.47,233.5 395.2,229.55 393.8,225.9 C392.4,222.25 390.93,218.38 389.1,215 C387.27,211.62 385.15,208.47 382.8,205.6 C380.45,202.73 377.05,199.57 375,197.8 C372.95,196.03 372.07,195.78 370.5,195 C368.93,194.22 367.18,193.57 365.6,193.1 C364.02,192.63 362.45,192.45 361,192.2 C359.55,191.95 357.58,191.7 356.9,191.6 Z" fill="#e8303a" fill-opacity="0.4" clip-path="url(#d10)"/>
<path d="M356.9,183 C357.75,183.08 360.02,183.19 362,183.5 C363.98,183.8 366.88,184.21 368.8,184.82 C370.72,185.43 371.95,186.2 373.5,187.18 C375.05,188.17 376.03,188.73 378.1,190.75 C380.17,192.77 383.55,196.11 385.9,199.31 C388.25,202.52 390.37,206.22 392.2,209.99 C394.03,213.77 395.5,217.79 396.9,221.96 C398.3,226.12 399.45,231.57 400.6,234.98 C401.75,238.38 402.97,240.39 403.8,242.4 C404.63,244.41 405.08,245.62 405.6,247.05 C406.12,248.48 406.68,250.34 406.9,251" fill="none" stroke="#e02030" stroke-width="0.6" stroke-opacity="0.8" stroke-linejoin="round" clip-path="url(#d10)"/>
<path d="M354.5,208.8 C355.08,209.38 356.67,211.18 358,212.3 C359.33,213.42 361,214.45 362.5,215.5 C364,216.55 365.43,217.38 367,218.6 C368.57,219.82 370.32,221.55 371.9,222.8 C373.48,224.05 374.93,225.05 376.5,226.1 C378.07,227.15 379.72,228.18 381.3,229.1 C382.88,230.02 384.45,230.82 386,231.6 C387.55,232.38 389.05,233.1 390.6,233.8 C392.15,234.5 393.73,235.18 395.3,235.8 C396.87,236.42 398.43,236.98 400,237.5 C401.57,238.02 403.13,238.48 404.7,238.9 C406.27,239.32 407.68,239.58 409.4,240 C411.12,240.42 413.07,241.03 415,241.4 C416.93,241.77 418.87,241.97 421,242.2 C423.13,242.43 426.67,242.7 427.8,242.8" fill="none" stroke="#5cc3ef" stroke-width="2.5" stroke-opacity="0.65" stroke-linejoin="round" clip-path="url(#d10)"/>
<path d="M354.71,208.61h0.01M355.33,209.97h0.01M355.06,209.65h0.01M356.05,209.69h0.01M355.36,210.64h0.01M357.01,211.1h0.01M357,211.6h0.01M357.31,211.53h0.01M357.21,211.23h0.01M357.91,211.15h0.01M357.84,212.86h0.01M358.8,212.83h0.01M358.25,212.68h0.01M359.04,213.34h0.01M359.32,213.72h0.01M360.74,213h0.01M360.56,214.46h0.01M360.4,214.15h0.01M361.95,213.51h0.01M361.46,214.02h0.01M362.31,215.85h0.01M362.16,214.44h0.01M362.65,215.58h0.01M363.31,215.78h0.01M363.53,216.67h0.01M363.67,216.1h0.01M364.9,215.95h0.01M364.74,216.58h0.01M365.28,216.29h0.01M366.09,217.02h0.01M364.61,217.12h0.01M365.67,216.85h0.01M366.09,217.92h0.01M367.02,218.05h0.01M366.53,218.05h0.01M367.83,219.78h0.01M367.75,218.64h0.01M368.65,219.28h0.01M367.82,219.06h0.01M369.3,220.72h0.01M369.37,220.34h0.01M369.57,220.15h0.01M370.73,220.71h0.01M370.43,221.94h0.01M371.13,221.54h0.01M370.44,222h0.01M370.45,222.87h0.01M371.26,223.2h0.01M371.43,222.55h0.01M371.79,222.93h0.01M372.04,222.36h0.01M373.49,223.19h0.01M372.92,223.5h0.01M373.78,224.03h0.01M374.47,224.77h0.01M374.31,225.58h0.01M375.68,224.11h0.01M376.01,226.09h0.01M376.3,224.83h0.01M376.78,226.09h0.01M375.53,225.12h0.01M377.8,226.66h0.01M376.8,225.8h0.01M376.99,226.32h0.01M378.65,226.79h0.01M377.81,228.16h0.01M379.48,226.94h0.01M380.08,228.07h0.01M380.26,228.44h0.01M380.89,228.93h0.01M381.18,227.99h0.01M381.29,228.91h0.01M381.78,228.98h0.01M382.49,229.44h0.01M381.68,229.02h0.01M381.86,229.77h0.01M382.13,229.94h0.01M382.73,230.22h0.01M383.86,230.54h0.01M385.02,229.7h0.01M385.4,230.85h0.01M385.27,231.48h0.01M386.25,231.12h0.01M385.84,232.52h0.01M385.57,232.07h0.01M387.11,231.06h0.01M387.47,232.57h0.01M388.54,232.06h0.01M389.05,232.62h0.01M388.48,233.6h0.01M388,233.44h0.01M389.6,232.88h0.01M390.49,233.13h0.01M390.13,233.65h0.01M391.14,233.22h0.01M390.9,233.83h0.01M391.56,234.82h0.01M391.47,235h0.01M392.12,234.53h0.01M392.28,234.72h0.01M394.11,235.2h0.01M394.17,234.73h0.01M393.65,234.85h0.01M394.62,235.71h0.01M395.44,234.7h0.01M395.75,236.57h0.01M395.82,235.05h0.01M395.76,235.12h0.01M395.96,237.11h0.01M397.23,236.73h0.01M398.01,237.39h0.01M398.09,236.96h0.01M398.54,237.27h0.01M398.91,237.4h0.01M398.57,237.52h0.01M399.49,237.87h0.01M399.2,236.86h0.01M399.54,238.19h0.01M401.77,238.09h0.01M401.15,238.57h0.01M402.45,238.18h0.01M401.87,237.8h0.01M402.66,237.98h0.01M403.15,238.76h0.01M404.63,237.73h0.01M404.37,237.84h0.01M403.94,239.52h0.01M405.32,239.85h0.01M405.53,238.15h0.01M405.88,239.41h0.01M407.46,240.3h0.01M407,239.27h0.01M406.72,239.85h0.01M407.41,238.97h0.01M407.49,238.79h0.01M409.3,239.13h0.01M410.33,239.18h0.01M410.61,239.37h0.01M409.37,240.67h0.01M410.28,240.82h0.01M410.64,239.57h0.01M412.28,241.01h0.01M412.91,241.16h0.01M411.84,241.07h0.01M413.55,240.85h0.01M414.46,240.56h0.01M415,241.6h0.01M413.56,240.31h0.01M415.3,242.03h0.01M414.62,241.08h0.01M416.38,240.86h0.01M417.11,241.56h0.01M415.97,241.38h0.01M417.46,241.59h0.01M418.12,241.06h0.01M418.83,241.56h0.01M418.98,242.15h0.01M418.99,241.73h0.01M420.19,242.91h0.01M420.65,242.21h0.01M420.12,241.26h0.01M421.95,242.61h0.01M422.11,241.9h0.01M422.12,243.23h0.01M423.02,242.52h0.01M422.43,242.22h0.01M424.04,242.15h0.01M424.09,242.64h0.01M424.97,243.09h0.01M424.19,241.52h0.01M424.61,242.41h0.01M425.71,243.23h0.01M426.76,241.72h0.01M427.11,243.3h0.01M427.63,242.86h0.01M426.89,243.46h0.01" stroke="#45bbec" stroke-width="1.2" stroke-linecap="round" stroke-opacity="0.55" fill="none" clip-path="url(#d10)"/>
<path d="M330.05,144.33h0.01M330.99,144.72h0.01M330.25,146.1h0.01M332.04,146.21h0.01M332.45,148.28h0.01M332.02,148.44h0.01M333.32,148.94h0.01M332.97,149.32h0.01M334.45,151.04h0.01M334.43,150.54h0.01M335.55,152.53h0.01M335.02,152.94h0.01M336.53,154.39h0.01M336.16,154.56h0.01M336.6,154.94h0.01M336.2,155.83h0.01M337.42,157.05h0.01M337.49,158.02h0.01M337.72,158.47h0.01M337.18,160.89h0.01M338.06,160.15h0.01M338.81,162.23h0.01M338.24,162.75h0.01M338.86,163.46h0.01M338.57,163.45h0.01M340.6,165.8h0.01M339.98,166.12h0.01M339.87,167.45h0.01M340.47,168.7h0.01M341.38,169.42h0.01M342.03,169.36h0.01M340.67,170.21h0.01M341.23,170.95h0.01M341.35,172.73h0.01M343.18,173.47h0.01M343.67,175.2h0.01M342.44,175.57h0.01M343.39,175.63h0.01M344.76,176.8h0.01M344.4,178.41h0.01M345.47,179.38h0.01M344.81,179.91h0.01M344.7,181.69h0.01M346.51,181.2h0.01M345.1,182.11h0.01M345.97,184.12h0.01M347.28,184.86h0.01M346.04,185.62h0.01M347.55,186.21h0.01M348.35,186h0.01M347.15,188.11h0.01M348.89,188.82h0.01M348.06,189.61h0.01M349.21,189.68h0.01M348.75,190.9h0.01M348.71,192.24h0.01M349.11,192.75h0.01M349.39,194.49h0.01M349.48,195.5h0.01M350.13,195.22h0.01M351.77,196.5h0.01M352.07,198.52h0.01M352.27,198.07h0.01M351.76,198.85h0.01M352.91,201.04h0.01M352.66,201.2h0.01M352.43,202.72h0.01M352.96,203.23h0.01M352.61,203.42h0.01M352.7,205.22h0.01M353.85,205.11h0.01M354.67,206.25h0.01M354.09,206.96h0.01" stroke="#45bbec" stroke-width="1.2" stroke-linecap="round" stroke-opacity="0.55" fill="none" clip-path="url(#d10)"/>
<path d="M329.65,145.37h0.01M331.78,145.23h0.01M330.13,143.82h0.01M331.06,144.01h0.01M330.66,143.85h0.01M330.95,145.94h0.01M331.91,148.69h0.01M334.33,147.56h0.01M333.9,148.71h0.01M336.09,153.83h0.01M334.76,146.01h0.01M334.75,143.7h0.01M339.48,153.77h0.01M337.68,148.13h0.01M340.2,154.51h0.01M339.22,146.26h0.01M339.55,151.72h0.01M339.03,145.42h0.01M340.87,146.94h0.01M342.05,152.64h0.01M342.53,153.02h0.01M343.58,149.51h0.01M341.12,149.33h0.01M343.46,151.92h0.01M345.86,153h0.01M345.03,155.94h0.01M346.59,153.8h0.01M337.88,158.54h0.01M339.6,163.72h0.01M340.78,156.65h0.01M344.05,167.29h0.01M343.75,160.55h0.01M344.98,164.92h0.01M344.95,173.46h0.01M346.26,162.99h0.01M346.36,167.84h0.01M348.77,176.17h0.01M347,176.25h0.01M348.99,174.8h0.01M349.94,178.3h0.01M349.84,179.74h0.01M349.94,179.98h0.01M349.84,186.46h0.01M351.21,184.41h0.01M350.86,185.01h0.01M353.57,191.33h0.01M351.87,184h0.01M354.05,183.95h0.01" stroke="#e8303a" stroke-width="1.2" stroke-linecap="round" stroke-opacity="0.55" fill="none" clip-path="url(#d10)"/>
<path d="M357.62,182.45h0.01M367.56,184.85h0.01M358.48,184.78h0.01M360.03,183.57h0.01M358.41,182.56h0.01M364.74,184.2h0.01M363.69,184.29h0.01M363.45,179.77h0.01M358.48,182.57h0.01M366.53,184.22h0.01M358.69,182.4h0.01M362.58,181.51h0.01M358.68,183.16h0.01M361.66,185.73h0.01M366.44,187h0.01M358.95,179.34h0.01M359.13,181.31h0.01M366.07,186.67h0.01M361.82,182.49h0.01M366.22,181.74h0.01M367.28,184.11h0.01M365.56,183.17h0.01M360.92,185.03h0.01M361.97,188.16h0.01M366.98,183.91h0.01M365.96,184.76h0.01M362.83,182.95h0.01M367.46,186.36h0.01M361.83,182.69h0.01M364.04,181.79h0.01M366.42,187.69h0.01M374.43,187.16h0.01M367.97,184.64h0.01M386.23,201.28h0.01M378.83,183.21h0.01M382.7,201.4h0.01M365.66,179.24h0.01M379.01,191.22h0.01M370.92,191.28h0.01M376.83,194.23h0.01M370.41,183.34h0.01M376.35,181.31h0.01M371.23,189.62h0.01M371.62,185.14h0.01M377.97,189.19h0.01M385.93,196.53h0.01M375.16,188.23h0.01M376.64,190.72h0.01M367.79,186.11h0.01M371.36,183.64h0.01M370.25,187.2h0.01M366.83,177.84h0.01M378.32,189.01h0.01M377.44,188.83h0.01M380.53,191.46h0.01M375.04,183.64h0.01M375.22,187.04h0.01M371.73,186.42h0.01M376.17,191.8h0.01M373.33,186.62h0.01M389.69,205.55h0.01M400.95,236h0.01M392.76,214.47h0.01M388.19,205.21h0.01M398.96,229.06h0.01M385.4,203.21h0.01M391.62,211h0.01M383.27,194.46h0.01M398.15,228.04h0.01M384.31,198.52h0.01M398.22,232.61h0.01M385.31,197.51h0.01M396.83,223.68h0.01M395.52,221.06h0.01M393.34,209.3h0.01M398.23,226.45h0.01M392.4,206.46h0.01M399.25,228.84h0.01M384.71,192.86h0.01M401.15,240.33h0.01M394.85,216.84h0.01M392.9,214.83h0.01M375.26,179.14h0.01M384.36,186.87h0.01M374.49,177.8h0.01M376.06,179.53h0.01" stroke="#e8303a" stroke-width="1.3" stroke-linecap="round" stroke-opacity="0.8" fill="none" clip-path="url(#d10)"/>
<path d="M482.7,176 C483,174.67 483.65,170.82 484.5,168 C485.35,165.18 486.72,161.68 487.8,159.1 C488.88,156.52 489.95,154.25 491,152.5 C492.05,150.75 492.88,149.77 494.1,148.6 C495.32,147.43 496.9,146.3 498.3,145.5 C499.7,144.7 501.1,144 502.5,143.8 C503.9,143.6 505.3,143.85 506.7,144.3 C508.1,144.75 509.63,145.42 510.9,146.5 C512.17,147.58 513.25,149.05 514.3,150.8 C515.35,152.55 516.33,154.63 517.2,157 C518.07,159.37 518.8,162.2 519.5,165 C520.2,167.8 520.72,170.3 521.4,173.8 C522.08,177.3 522.9,181.8 523.6,186 C524.3,190.2 524.97,195 525.6,199 C526.23,203 526.85,206.5 527.4,210 C527.95,213.5 528.38,215.83 528.9,220 C529.42,224.17 530,229.83 530.5,235 C531,240.17 531.67,248.33 531.9,251 L528.5,251 C528.37,250.17 528.17,248.25 527.7,246 C527.23,243.75 526.4,240.78 525.7,237.5 C525,234.22 524.2,229.97 523.5,226.3 C522.8,222.63 522.2,219 521.5,215.5 C520.8,212 520,208.47 519.3,205.3 C518.6,202.13 518,199.3 517.3,196.5 C516.6,193.7 515.98,191.12 515.1,188.5 C514.22,185.88 513.05,182.9 512,180.8 C510.95,178.7 510.03,177.02 508.8,175.9 C507.57,174.78 506,174.45 504.6,174.1 C503.2,173.75 501.63,173.58 500.4,173.8 C499.17,174.02 498.25,174.7 497.2,175.4 C496.15,176.1 495.13,176.82 494.1,178 C493.07,179.18 492.05,180.75 491,182.5 C489.95,184.25 488.77,186.17 487.8,188.5 C486.83,190.83 486.05,193.7 485.2,196.5 C484.35,199.3 483.12,203.83 482.7,205.3 Z" fill="#e8303a" fill-opacity="0.4" clip-path="url(#d11)"/>
<path d="M482.7,190.65 C483,189.46 483.65,186.29 484.5,183.48 C485.35,180.67 486.72,176.46 487.8,173.8 C488.88,171.14 489.95,169.25 491,167.5 C492.05,165.75 492.88,164.52 494.1,163.3 C495.32,162.08 496.9,160.91 498.3,160.18 C499.7,159.44 501.1,158.96 502.5,158.88 C503.9,158.79 505.3,158.99 506.7,159.65 C508.1,160.31 509.63,161.31 510.9,162.81 C512.17,164.31 513.25,166.36 514.3,168.66 C515.35,170.95 516.33,173.74 517.2,176.57 C518.07,179.39 518.8,182.64 519.5,185.61 C520.2,188.59 520.72,190.95 521.4,194.42 C522.08,197.88 522.9,202.48 523.6,206.4 C524.3,210.33 524.97,214.5 525.6,218 C526.23,221.49 526.85,224.45 527.4,227.36 C527.95,230.28 528.38,232.89 528.9,235.5 C529.42,238.11 530,240.42 530.5,243 C531,245.58 531.67,249.67 531.9,251" fill="none" stroke="#e02030" stroke-width="0.6" stroke-opacity="0.8" stroke-linejoin="round" clip-path="url(#d11)"/>
<path d="M482.7,211.3 C483.42,211.97 485.38,213.92 487,215.3 C488.62,216.68 490.57,218.22 492.4,219.6 C494.23,220.98 495.95,222.28 498,223.6 C500.05,224.92 502.7,226.38 504.7,227.5 C506.7,228.62 508.27,229.45 510,230.3 C511.73,231.15 513.43,231.9 515.1,232.6 C516.77,233.3 518.32,233.88 520,234.5 C521.68,235.12 523.53,235.75 525.2,236.3 C526.87,236.85 528.32,237.33 530,237.8 C531.68,238.27 533.63,238.73 535.3,239.1 C536.97,239.47 538.32,239.72 540,240 C541.68,240.28 543.32,240.53 545.4,240.8 C547.48,241.07 551.32,241.47 552.5,241.6" fill="none" stroke="#5cc3ef" stroke-width="2.5" stroke-opacity="0.65" stroke-linejoin="round" clip-path="url(#d11)"/>
<path d="M482.29,211.08h0.01M483.14,211.38h0.01M483.01,212.49h0.01M484.39,212.22h0.01M483.91,211.9h0.01M483.96,212.13h0.01M484.84,213.31h0.01M484.19,214.29h0.01M484.99,214.45h0.01M486.35,214.99h0.01M485.42,214.23h0.01M487.16,213.71h0.01M485.76,215.12h0.01M486.99,216.14h0.01M487.91,215.66h0.01M488.72,215.91h0.01M488.11,216.53h0.01M488.22,216.16h0.01M488.99,216.44h0.01M490.06,217.37h0.01M489.57,216.5h0.01M489.63,217.4h0.01M490.36,218.03h0.01M491.36,219.1h0.01M490.93,218.33h0.01M491.57,219.73h0.01M491.37,219.09h0.01M492.67,218.65h0.01M492.04,220.56h0.01M493.43,219.89h0.01M492.37,220.92h0.01M493.9,221.04h0.01M494.87,221.44h0.01M494.11,220.25h0.01M494.22,221.22h0.01M495.02,220.84h0.01M494.75,221.99h0.01M495.97,221.71h0.01M497.12,222.54h0.01M495.59,222.36h0.01M497.46,222.41h0.01M497.63,222.07h0.01M497.24,224.02h0.01M498.17,223.94h0.01M497.79,223.83h0.01M498.89,223.59h0.01M499.48,224.35h0.01M500.57,224.67h0.01M499.79,223.99h0.01M499.68,225.5h0.01M499.97,224.41h0.01M500.49,225.48h0.01M502.19,225.89h0.01M502.55,225.02h0.01M501.36,226.66h0.01M502.38,226.78h0.01M502.83,225.92h0.01M503.05,226.01h0.01M504.72,227.21h0.01M504,227.17h0.01M504.47,226.61h0.01M505.89,227.88h0.01M506.43,227.81h0.01M506.16,227.64h0.01M505.42,229.22h0.01M507.45,228.21h0.01M507.94,229.42h0.01M507.16,229.21h0.01M508.88,229.21h0.01M509.27,228.92h0.01M508.56,230.09h0.01M508.63,229.49h0.01M510.34,230.05h0.01M510.59,229.79h0.01M509.77,230.21h0.01M510.22,231.63h0.01M510.86,231h0.01M510.93,231.13h0.01M511.9,231.06h0.01M511.68,230.7h0.01M513.63,231.34h0.01M512.89,231.22h0.01M513.39,231.5h0.01M513.32,232.55h0.01M514.36,231.72h0.01M515.51,231.79h0.01M515.08,233.44h0.01M515.25,232.83h0.01M517.11,233.73h0.01M516.2,233h0.01M517.77,233.22h0.01M518.69,233.05h0.01M519.12,233.82h0.01M518.12,233.89h0.01M518.37,234.57h0.01M519.08,235.13h0.01M520.18,234.24h0.01M519.93,234.87h0.01M520.29,235.54h0.01M520.55,234.98h0.01M521.82,234.64h0.01M522.71,235.02h0.01M522.92,235.54h0.01M522.65,235.33h0.01M522.64,235.05h0.01M524.6,235.49h0.01M524.66,235.22h0.01M524.89,235.87h0.01M525.2,235.89h0.01M524.77,236.06h0.01M525.53,235.82h0.01M526.94,236.27h0.01M526.75,237.66h0.01M527.93,237.75h0.01M528.54,236.38h0.01M527.81,236.31h0.01M529.05,237.72h0.01M528.83,237.35h0.01M529.88,238.06h0.01M529.5,238.49h0.01M530.15,238.17h0.01M530.25,237.25h0.01M532.15,238.59h0.01M532.19,237.31h0.01M531.29,237.67h0.01M532.05,238.06h0.01M532.85,237.64h0.01M533.16,238.94h0.01M533.33,239.45h0.01M534.56,239.32h0.01M534.37,238.86h0.01M535.67,238.8h0.01M534.77,239.86h0.01M536.79,238.85h0.01M535.8,240.08h0.01M537.39,238.55h0.01M537.14,238.77h0.01M538.7,239.06h0.01M539.42,240.23h0.01M538.23,240.21h0.01M539.32,240.41h0.01M540.66,239.56h0.01M539.63,240.96h0.01M540.75,240.99h0.01M541.73,240.68h0.01M542.46,240.52h0.01M542.16,239.44h0.01M543.1,240.26h0.01M543.17,241.32h0.01M542.86,241.06h0.01M543.14,241.01h0.01M545.11,240.19h0.01M545.04,241.67h0.01M545.68,240.89h0.01M545.37,239.97h0.01M546.06,240.73h0.01M546.22,240.58h0.01M546.57,241.43h0.01M548.11,240.54h0.01M547.72,241.15h0.01M548.6,242.05h0.01M548.89,240.83h0.01M550.43,240.56h0.01M550.26,241h0.01M551.24,241.48h0.01M551.6,240.78h0.01M551.89,241.69h0.01M551.95,242.08h0.01" stroke="#45bbec" stroke-width="1.2" stroke-linecap="round" stroke-opacity="0.55" fill="none" clip-path="url(#d11)"/>
<path d="M456.9,157.81h0.01M456.52,158.75h0.01M456.97,158.71h0.01M458.11,159.7h0.01M459.86,160.91h0.01M459.1,161.68h0.01M460.04,162.75h0.01M459.8,163.23h0.01M459.82,165.89h0.01M461.45,165.25h0.01M461.68,167.72h0.01M461.69,167.01h0.01M461.84,168.45h0.01M461.58,169.51h0.01M461.54,171.04h0.01M462.97,171.37h0.01M463.78,172.27h0.01M462.98,172.47h0.01M463.21,173.01h0.01M464.78,175.4h0.01M464.35,175.15h0.01M465.39,177.27h0.01M466.34,176.97h0.01M466.51,179.09h0.01M466.94,178.94h0.01M466.43,180.59h0.01M467.18,180.51h0.01M468.09,181.26h0.01M469.1,181.78h0.01M468.17,183.12h0.01M469.81,184.41h0.01M470.54,185.4h0.01M471.55,185.49h0.01M471.33,185.72h0.01M471.56,187.31h0.01M471.74,188.34h0.01M472.32,188.75h0.01M474.2,188.98h0.01M472.96,190.46h0.01M473.66,191.83h0.01M473.75,192.9h0.01M475.71,193.66h0.01M475.37,193.61h0.01M476.17,194.9h0.01M476.11,195.46h0.01M476.51,196.92h0.01M477.59,198.23h0.01M476.77,198.01h0.01M477.65,199.36h0.01M477.85,199.58h0.01M477.75,200.68h0.01M478.79,202.71h0.01M479.95,203.37h0.01M480.43,204.4h0.01M480.14,204.99h0.01M479.49,205.6h0.01M480.84,205.78h0.01M481.13,207.82h0.01M481.39,208.27h0.01M481.49,208.72h0.01M482.97,209.15h0.01" stroke="#45bbec" stroke-width="1.2" stroke-linecap="round" stroke-opacity="0.55" fill="none" clip-path="url(#d11)"/>
<path d="M455.94,164.41h0.01M457.98,162h0.01M456.46,161.71h0.01M457.02,158.73h0.01M457.39,157.83h0.01M457.71,160.02h0.01M460.36,168.22h0.01M462.28,164.84h0.01M459.83,167.24h0.01M461.3,165.54h0.01M462.83,162.97h0.01M463.39,161.31h0.01M463.71,166.9h0.01M463.74,164.68h0.01M463.87,170.24h0.01M466.59,168.41h0.01M466.58,168.07h0.01M464.85,165.07h0.01M466.03,176.75h0.01M470.42,170.79h0.01M467.45,172.2h0.01M468.95,171.01h0.01M472.68,164.02h0.01M469.2,170.82h0.01M473.57,175.72h0.01M472.31,173.7h0.01M472.15,172.56h0.01M473.54,175.79h0.01M475.79,172.32h0.01M475.13,173.33h0.01M474.32,174.85h0.01M474.97,181.04h0.01M475.47,179.93h0.01M476.9,183.32h0.01M476.19,183.59h0.01M477.45,180.15h0.01M481.4,189.79h0.01M479.38,189.28h0.01M480.44,188.56h0.01M482.89,189.4h0.01M481.44,192.34h0.01M481.19,188.95h0.01M470.79,156.49h0.01M470.75,159.93h0.01M469.71,162.2h0.01M473.08,160.5h0.01M472.27,158.05h0.01M472.67,159.06h0.01" stroke="#e8303a" stroke-width="1.2" stroke-linecap="round" stroke-opacity="0.55" fill="none" clip-path="url(#d11)"/>
<path d="M484.71,180.5h0.01M492.39,161.75h0.01M491.69,165.62h0.01M493.16,166.94h0.01M484.78,182.85h0.01M488.47,175.74h0.01M483.57,183.84h0.01M485.11,183.31h0.01M487.32,171.64h0.01M488.2,175.76h0.01M487.33,179.39h0.01M492.37,164.86h0.01M486.66,176.49h0.01M485.47,183.36h0.01M483.66,184.69h0.01M484.98,180.19h0.01M489.26,173.17h0.01M487.27,175.17h0.01M489.28,171.11h0.01M486.7,179.87h0.01M493.56,164.41h0.01M483.68,189.12h0.01M486.06,181.97h0.01M486.07,176.85h0.01M489.17,171.09h0.01M488.75,179.74h0.01M483.56,185.07h0.01M489.09,171.96h0.01M491.33,161.82h0.01M489.85,168.13h0.01M496.89,158.66h0.01M508.2,166.71h0.01M505.69,153.37h0.01M497.39,161.35h0.01M501.9,153.18h0.01M504.67,156.59h0.01M499.63,163.44h0.01M492.03,164.45h0.01M512.45,168.18h0.01M501.29,157.44h0.01M495.87,163.98h0.01M498.38,160.43h0.01M509.86,162.35h0.01M500.67,155.04h0.01M497.35,162.45h0.01M494.42,165.85h0.01M497.49,162.01h0.01M506.69,151.61h0.01M498.19,157.57h0.01M510.97,161.65h0.01M494.63,162.17h0.01M503.47,162.43h0.01M507.74,160.16h0.01M500.12,160.52h0.01M501.36,158.24h0.01M510.48,162.04h0.01M491.21,169.96h0.01M494.32,162.5h0.01M495.5,167.84h0.01M499.49,161.31h0.01M526.97,228.22h0.01M522.15,199.8h0.01M529.18,240.49h0.01M521.1,196.88h0.01M527.22,228.54h0.01M515.31,172.42h0.01M519.67,187.59h0.01M527.22,222.97h0.01M512.43,161.26h0.01M514.99,170.51h0.01M516.74,171.84h0.01M522.84,201.84h0.01M516.94,176.56h0.01M508.71,159.65h0.01M518.72,181.02h0.01M521.03,192.59h0.01M508,163.31h0.01M528.33,225.89h0.01M508.95,158.55h0.01M521.39,194.03h0.01M509.78,159.85h0.01M511.18,165.85h0.01M494.5,148.84h0.01M501.16,144.19h0.01M504.47,143.92h0.01M505.85,144.2h0.01" stroke="#e8303a" stroke-width="1.3" stroke-linecap="round" stroke-opacity="0.8" fill="none" clip-path="url(#d11)"/>
<path d="M608.7,175.8 C608.88,174.5 609.32,170.43 609.8,168 C610.28,165.57 610.82,163.28 611.6,161.2 C612.38,159.12 613.45,157.25 614.5,155.5 C615.55,153.75 616.82,152.02 617.9,150.7 C618.98,149.38 619.95,148.52 621,147.6 C622.05,146.68 623.15,145.83 624.2,145.2 C625.25,144.57 626.25,144.13 627.3,143.8 C628.35,143.47 629.45,143 630.5,143.2 C631.55,143.4 632.55,144.1 633.6,145 C634.65,145.9 635.73,147.1 636.8,148.6 C637.87,150.1 638.95,151.9 640,154 C641.05,156.1 642.13,158.37 643.1,161.2 C644.07,164.03 644.97,167.52 645.8,171 C646.63,174.48 647.35,178.1 648.1,182.1 C648.85,186.1 649.6,190.45 650.3,195 C651,199.55 651.67,204.73 652.3,209.4 C652.93,214.07 653.53,218.47 654.1,223 C654.67,227.53 655.23,231.93 655.7,236.6 C656.17,241.27 656.7,248.6 656.9,251 L655,251 C654.9,250.35 654.9,249.18 654.4,247.1 C653.9,245.02 652.83,241.65 652,238.5 C651.17,235.35 650.28,231.7 649.4,228.2 C648.52,224.7 647.62,220.98 646.7,217.5 C645.78,214.02 644.77,210.47 643.9,207.3 C643.03,204.13 642.33,201.3 641.5,198.5 C640.67,195.7 639.85,193 638.9,190.5 C637.95,188 636.85,185.6 635.8,183.5 C634.75,181.4 633.65,179.23 632.6,177.9 C631.55,176.57 630.55,176.05 629.5,175.5 C628.45,174.95 627.35,174.6 626.3,174.6 C625.25,174.6 624.25,174.95 623.2,175.5 C622.15,176.05 621.07,176.73 620,177.9 C618.93,179.07 617.85,180.75 616.8,182.5 C615.75,184.25 614.67,186.23 613.7,188.4 C612.73,190.57 611.83,193.05 611,195.5 C610.17,197.95 609.08,201.83 608.7,203.1 Z" fill="#e8303a" fill-opacity="0.4" clip-path="url(#d12)"/>
<path d="M608.7,189.45 C608.88,188.5 609.32,185.71 609.8,183.73 C610.28,181.75 610.82,179.65 611.6,177.56 C612.38,175.47 613.45,173.15 614.5,171.19 C615.55,169.23 616.82,167.28 617.9,165.81 C618.98,164.34 619.95,163.31 621,162.38 C622.05,161.44 623.15,160.71 624.2,160.2 C625.25,159.7 626.25,159.42 627.3,159.34 C628.35,159.26 629.45,159.24 630.5,159.74 C631.55,160.23 632.55,161.08 633.6,162.33 C634.65,163.57 635.73,165.24 636.8,167.18 C637.87,169.12 638.95,171.34 640,173.94 C641.05,176.54 642.13,179.67 643.1,182.78 C644.07,185.89 644.97,189.31 645.8,192.61 C646.63,195.91 647.35,199.11 648.1,202.57 C648.85,206.04 649.6,209.73 650.3,213.38 C651,217.03 651.67,220.97 652.3,224.49 C652.93,228.01 653.53,231.29 654.1,234.51 C654.67,237.73 655.23,241.05 655.7,243.8 C656.17,246.55 656.7,249.8 656.9,251" fill="none" stroke="#e02030" stroke-width="0.6" stroke-opacity="0.8" stroke-linejoin="round" clip-path="url(#d12)"/>
<path d="M608.7,211.3 C609.33,211.83 611.05,213.33 612.5,214.5 C613.95,215.67 615.65,216.95 617.4,218.3 C619.15,219.65 620.95,221.23 623,222.6 C625.05,223.97 627.62,225.33 629.7,226.5 C631.78,227.67 633.43,228.6 635.5,229.6 C637.57,230.6 640.02,231.63 642.1,232.5 C644.18,233.37 645.95,234.1 648,234.8 C650.05,235.5 652.32,236.17 654.4,236.7 C656.48,237.23 658.43,237.62 660.5,238 C662.57,238.38 664.8,238.7 666.8,239 C668.8,239.3 670.52,239.53 672.5,239.8 C674.48,240.07 677.67,240.47 678.7,240.6" fill="none" stroke="#5cc3ef" stroke-width="2.5" stroke-opacity="0.65" stroke-linejoin="round" clip-path="url(#d12)"/>
<path d="M608.36,211.78h0.01M608.56,212.01h0.01M609.92,212.43h0.01M609.35,212.72h0.01M611.04,212.37h0.01M609.98,212.8h0.01M611.65,212.31h0.01M610.14,213.29h0.01M611.77,214.18h0.01M611.53,214.9h0.01M611.61,214.72h0.01M611.68,213.56h0.01M612.15,213.91h0.01M613.26,215.2h0.01M612.99,216.26h0.01M613.74,214.97h0.01M613.74,216.44h0.01M615.6,215.58h0.01M614.2,217.1h0.01M615,217.8h0.01M615.89,217.4h0.01M615.96,218.02h0.01M616.57,217.36h0.01M617.83,217.22h0.01M617.87,217.43h0.01M618.06,218.39h0.01M618.87,217.99h0.01M618.65,218.98h0.01M619.73,220.34h0.01M619.52,219.18h0.01M619.14,219.54h0.01M619.88,219.77h0.01M619.79,221.11h0.01M621.05,220.48h0.01M622.12,220.6h0.01M621.65,220.77h0.01M622.61,222.48h0.01M621.79,222.53h0.01M623.27,221.88h0.01M622.66,222.57h0.01M624.18,222.15h0.01M624.15,223.25h0.01M624.09,223.45h0.01M625.34,222.94h0.01M625.74,223.47h0.01M625.92,224.7h0.01M625.12,224.93h0.01M627.14,224.03h0.01M625.6,223.89h0.01M627.89,223.91h0.01M628.16,224.43h0.01M628.2,224.55h0.01M627.46,225.95h0.01M627.7,225.49h0.01M629.75,226.47h0.01M630.07,227.23h0.01M628.77,225.97h0.01M630.7,227.1h0.01M629.6,226.95h0.01M630.41,227.03h0.01M630.57,226.43h0.01M632.75,227.24h0.01M632.94,227.07h0.01M632.57,227.32h0.01M632.87,227.63h0.01M633.8,227.79h0.01M634.32,228.72h0.01M633.48,228.64h0.01M634.66,229.99h0.01M634.78,228.81h0.01M636.44,230.37h0.01M636.38,229.33h0.01M635.68,229.49h0.01M635.88,229.23h0.01M637.17,230.14h0.01M637.68,230.23h0.01M637,231.06h0.01M638.69,230.96h0.01M638.9,231.43h0.01M640.18,231.98h0.01M640.06,231.21h0.01M639.67,231.43h0.01M641.4,231.55h0.01M640.63,231.78h0.01M640.56,233.13h0.01M640.7,232.53h0.01M642.95,232.01h0.01M642.74,232.42h0.01M642.42,232.23h0.01M642.6,233.68h0.01M644.35,233.97h0.01M643.31,233.71h0.01M644.28,233.78h0.01M645.15,233.28h0.01M646.41,232.82h0.01M646.39,234.69h0.01M646.33,234.33h0.01M647.73,233.78h0.01M647.42,234.96h0.01M647.34,235.06h0.01M647.79,234.85h0.01M648.68,235.29h0.01M648.56,235.33h0.01M649.46,234.65h0.01M650.05,234.87h0.01M651.1,235.43h0.01M651.19,235.66h0.01M651.15,235.19h0.01M650.94,236.74h0.01M652.17,236.07h0.01M652.63,236.78h0.01M652.51,235.64h0.01M654.13,236.35h0.01M654.22,237.22h0.01M655.19,237.44h0.01M653.96,236.56h0.01M656,237.54h0.01M655.05,236.31h0.01M655.78,236.31h0.01M656.46,237.81h0.01M657.26,237.21h0.01M656.86,237.19h0.01M659.15,237.89h0.01M658.52,237.56h0.01M659.69,238.22h0.01M658.86,238.16h0.01M659.76,237.94h0.01M659.98,237.74h0.01M660.63,237.83h0.01M660.44,237.54h0.01M661.99,237.33h0.01M661.66,238.72h0.01M662.3,238.01h0.01M662.68,239.1h0.01M662.83,238.77h0.01M664.82,237.97h0.01M664.4,239.23h0.01M665.24,238.46h0.01M664.54,238.67h0.01M665.63,239.28h0.01M665.94,238.74h0.01M667.1,239.62h0.01M666.98,238.84h0.01M667.91,239.98h0.01M667.61,240.14h0.01M669.12,239.01h0.01M669.51,238.99h0.01M668.79,239.91h0.01M669.88,239.52h0.01M670.59,240.34h0.01M671.59,238.65h0.01M671.74,239.59h0.01M671.95,240.41h0.01M672.33,239.75h0.01M673.76,239.74h0.01M673.44,239.95h0.01M674.58,240.33h0.01M674.89,239.85h0.01M673.97,240.47h0.01M675.47,240.71h0.01M676.38,239.47h0.01M675.76,239.45h0.01M677.43,239.56h0.01M676.45,240.92h0.01M677.87,239.59h0.01M678.59,240.96h0.01" stroke="#45bbec" stroke-width="1.2" stroke-linecap="round" stroke-opacity="0.55" fill="none" clip-path="url(#d12)"/>
<path d="M582.27,149.4h0.01M583.24,150.45h0.01M583.65,151.9h0.01M584.74,152.34h0.01M584.2,152.04h0.01M585.53,152.11h0.01M586.78,153.49h0.01M585.87,154.46h0.01M586.26,156.35h0.01M587.2,156.62h0.01M587.36,156.69h0.01M587.47,159.12h0.01M588.68,160.06h0.01M588.02,159.84h0.01M587.97,161.41h0.01M588.87,162.24h0.01M589.42,163.35h0.01M589.55,164.64h0.01M589.59,165.75h0.01M590.58,165.09h0.01M590.49,166.86h0.01M591,167.82h0.01M591.19,168.19h0.01M592.39,169.12h0.01M592.58,170.94h0.01M592.79,171.18h0.01M593.84,172.02h0.01M594.17,172.18h0.01M593.79,174.08h0.01M593.53,175.34h0.01M594,175.72h0.01M594.62,177.16h0.01M595.69,177.87h0.01M595.96,178.58h0.01M596.66,178.83h0.01M596.21,180.74h0.01M596.48,181.82h0.01M596.97,181.28h0.01M597.13,183.37h0.01M599.03,183.56h0.01M598.86,184.14h0.01M599.66,185.76h0.01M598.66,185.49h0.01M600,186.32h0.01M600.61,187.63h0.01M599.88,189.08h0.01M600.39,189.97h0.01M600.45,191.53h0.01M601.11,192.33h0.01M601.16,193.18h0.01M603.01,193.38h0.01M601.66,194.28h0.01M603.11,194.93h0.01M603.3,195.63h0.01M603.51,197.7h0.01M603.8,198.54h0.01M603.59,199.73h0.01M603.96,200.83h0.01M605.89,201.79h0.01M605.45,201.62h0.01M605.53,203.45h0.01M606.19,204.77h0.01M605.87,204.97h0.01M607.66,206.18h0.01M607.41,206.26h0.01M607.03,207.59h0.01M608.73,209.62h0.01M607.87,210.76h0.01" stroke="#45bbec" stroke-width="1.2" stroke-linecap="round" stroke-opacity="0.55" fill="none" clip-path="url(#d12)"/>
<path d="M582.1,157.31h0.01M580.83,156.25h0.01M580.28,157.43h0.01M581.4,153.14h0.01M582.33,149.21h0.01M582.28,150.92h0.01M583.25,157.49h0.01M583.02,159.9h0.01M584.65,159.61h0.01M586.86,152.8h0.01M584.43,151.36h0.01M586.08,150.87h0.01M587.95,159.2h0.01M587.49,157.94h0.01M587.47,157.4h0.01M591.25,156.79h0.01M590.63,158.09h0.01M589.61,158.79h0.01M589.96,162.59h0.01M592.08,168.27h0.01M593.37,166.17h0.01M594.94,158.78h0.01M593.87,158.53h0.01M594.14,157.1h0.01M595.68,166.89h0.01M596.59,166.61h0.01M596.46,169.29h0.01M598.64,174.04h0.01M596.98,172.34h0.01M597.87,174.71h0.01M599.52,175.83h0.01M598.49,174.32h0.01M599.2,175h0.01M601.31,177.94h0.01M602.3,175.63h0.01M602.9,176.63h0.01M606.44,182.84h0.01M604.8,180.34h0.01M605.61,180.84h0.01M604.15,183.74h0.01M606.34,176.21h0.01M604,185.35h0.01M598.43,154.36h0.01M595.94,153.51h0.01M599.83,150.53h0.01M601.64,163.92h0.01M601.19,155.82h0.01M601.64,159.59h0.01" stroke="#e8303a" stroke-width="1.2" stroke-linecap="round" stroke-opacity="0.55" fill="none" clip-path="url(#d12)"/>
<path d="M616.9,168.41h0.01M616.33,169.69h0.01M610.67,182.68h0.01M611.28,179.1h0.01M619.45,166.38h0.01M619.67,164.61h0.01M614.42,168.49h0.01M617.38,170.26h0.01M615.88,166.63h0.01M611.29,175.07h0.01M617.46,162.95h0.01M610.17,181.97h0.01M610.9,177.59h0.01M619.34,162.21h0.01M610.62,177.13h0.01M617.9,171.02h0.01M617.02,165.03h0.01M617.94,166.88h0.01M613.77,169.5h0.01M617.86,166.99h0.01M612.34,170.8h0.01M619.29,158.11h0.01M610.42,180.38h0.01M619.37,164.64h0.01M618,163.77h0.01M611.64,178.4h0.01M611.68,180.1h0.01M614.37,174.78h0.01M616.66,165.61h0.01M613.32,174.76h0.01M631.72,154.51h0.01M637.42,170.17h0.01M618.62,161.75h0.01M631.05,161.89h0.01M629.79,156.84h0.01M635.1,164.69h0.01M627.46,159.03h0.01M617.06,172.2h0.01M625.91,163.95h0.01M630,156.54h0.01M621.4,162.96h0.01M624.48,162.93h0.01M623.13,156.79h0.01M618.64,164.26h0.01M626.42,165.13h0.01M631.24,161h0.01M631.72,159.05h0.01M617.61,167.28h0.01M622.67,159.18h0.01M637.77,167.56h0.01M636.28,168.34h0.01M630.13,162.52h0.01M627.69,157.16h0.01M637.73,158.38h0.01M620.87,162.06h0.01M634.97,166.72h0.01M616.71,171.45h0.01M620.56,166.59h0.01M634.51,162.36h0.01M622.22,160.55h0.01M645.47,192.3h0.01M652.07,220.86h0.01M653.48,230.85h0.01M652.74,226.45h0.01M646.99,196.95h0.01M643.16,185.19h0.01M647.78,200.6h0.01M647.16,196.43h0.01M648.11,204.68h0.01M653.02,226.23h0.01M654.49,236.82h0.01M634.91,166.17h0.01M645.57,188.65h0.01M643.24,183.32h0.01M649.22,203.05h0.01M649.67,212.37h0.01M636.62,167.37h0.01M654,234.99h0.01M646.21,193.56h0.01M645.99,195.71h0.01M649.62,210.73h0.01M647.36,198.6h0.01M624.52,144.91h0.01M627.11,144.83h0.01M631.68,144.4h0.01M632.23,143.66h0.01" stroke="#e8303a" stroke-width="1.3" stroke-linecap="round" stroke-opacity="0.8" fill="none" clip-path="url(#d12)"/>
</svg>
</body></html>
